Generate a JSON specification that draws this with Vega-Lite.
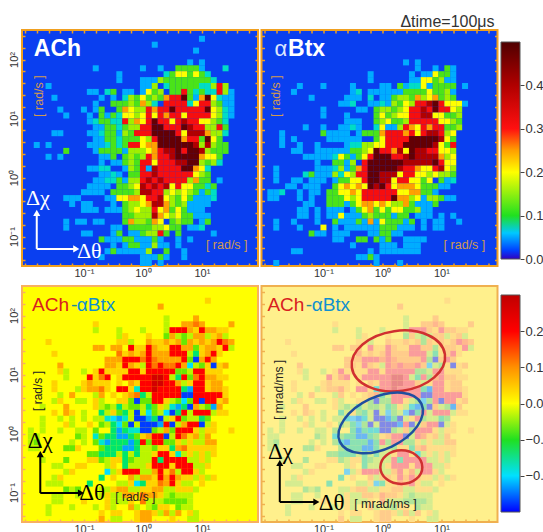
{"$schema":"https://vega.github.io/schema/vega-lite/v6.json","background":"white","padding":{"left":7,"top":13,"right":0,"bottom":0},"bounds":"flush","columns":3,"spacing":{"row":20,"column":3.5},"resolve":{"scale":{"color":"independent"}},
"config":{"font":"Liberation Sans","axis":{"disable":true,"grid":false,"title":null,"domain":false,"labelColor":"#333333","labelFontSize":11,"tickColor":"#f0a020","tickSize":-3,"tickWidth":1.5,"labelOverlap":false,"labelFlush":false},"axisX":{"labelPadding":4},"axisY":{"labelPadding":6},"view":{"stroke":null},"text":{"font":"Liberation Sans"}},
"datasets":{
"ticks":[{"x":0,"y":0}],
"ach":[
{"x":1,"y":2.3,"v":0.05},{"x":0.2,"y":2.2,"v":0.05},{"x":0.9,"y":2.1,"v":0.05},{"x":0.8,"y":1.9,"v":0.05},{"x":1,"y":1.9,"v":0.05},
{"x":-0.8,"y":1.8,"v":0.05},{"x":0,"y":1.8,"v":0.05},{"x":0.3,"y":1.8,"v":0.05},{"x":0.6,"y":1.8,"v":0.11},{"x":0.7,"y":1.8,"v":0.11},{"x":0.8,"y":1.8,"v":0.11},{"x":0.9,"y":1.8,"v":0.11},{"x":1,"y":1.8,"v":0.05},{"x":1.4,"y":1.8,"v":0.08},
{"x":-0.4,"y":1.7,"v":0.05},{"x":0.4,"y":1.7,"v":0.08},{"x":0.5,"y":1.7,"v":0.11},{"x":0.6,"y":1.7,"v":0.2},{"x":0.7,"y":1.7,"v":0.2},{"x":0.8,"y":1.7,"v":0.11},{"x":0.9,"y":1.7,"v":0.2},{"x":1,"y":1.7,"v":0.11},{"x":1.1,"y":1.7,"v":0.08},
{"x":-0.4,"y":1.6,"v":0.05},{"x":0,"y":1.6,"v":0.05},{"x":0.1,"y":1.6,"v":0.05},{"x":0.2,"y":1.6,"v":0.05},{"x":0.3,"y":1.6,"v":0.15},{"x":0.4,"y":1.6,"v":0.11},{"x":0.5,"y":1.6,"v":0.11},{"x":0.6,"y":1.6,"v":0.11},{"x":0.7,"y":1.6,"v":0.11},{"x":0.8,"y":1.6,"v":0.11},{"x":0.9,"y":1.6,"v":0.11},{"x":1,"y":1.6,"v":0.11},{"x":1.1,"y":1.6,"v":0.11},{"x":1.2,"y":1.6,"v":0.08},
{"x":-1.6,"y":1.5,"v":0.05},{"x":0,"y":1.5,"v":0.05},{"x":0.1,"y":1.5,"v":0.05},{"x":0.2,"y":1.5,"v":0.15},{"x":0.4,"y":1.5,"v":0.08},{"x":0.5,"y":1.5,"v":0.11},{"x":0.6,"y":1.5,"v":0.11},{"x":0.7,"y":1.5,"v":0.11},{"x":0.8,"y":1.5,"v":0.11},{"x":0.9,"y":1.5,"v":0.11},{"x":1,"y":1.5,"v":0.08},{"x":1.1,"y":1.5,"v":0.08},{"x":1.2,"y":1.5,"v":0.15},{"x":1.3,"y":1.5,"v":0.31},{"x":1.4,"y":1.5,"v":0.15},
{"x":-0.9,"y":1.4,"v":0.05},{"x":-0.8,"y":1.4,"v":0.05},{"x":-0.6,"y":1.4,"v":0.08},{"x":-0.5,"y":1.4,"v":0.11},{"x":-0.3,"y":1.4,"v":0.05},{"x":-0.2,"y":1.4,"v":0.05},{"x":0,"y":1.4,"v":0.05},{"x":0.1,"y":1.4,"v":0.2},{"x":0.2,"y":1.4,"v":0.11},{"x":0.3,"y":1.4,"v":0.15},{"x":0.5,"y":1.4,"v":0.11},{"x":0.6,"y":1.4,"v":0.11},{"x":0.7,"y":1.4,"v":0.31},{"x":0.8,"y":1.4,"v":0.11},{"x":0.9,"y":1.4,"v":0.08},{"x":1,"y":1.4,"v":0.11},{"x":1.1,"y":1.4,"v":0.08},{"x":1.2,"y":1.4,"v":0.08},{"x":1.3,"y":1.4,"v":0.31},{"x":1.4,"y":1.4,"v":0.15},{"x":1.5,"y":1.4,"v":0.05},
{"x":-1.5,"y":1.3,"v":0.05},{"x":-0.7,"y":1.3,"v":0.05},{"x":-0.5,"y":1.3,"v":0.05},{"x":-0.3,"y":1.3,"v":0.08},{"x":-0.2,"y":1.3,"v":0.15},{"x":-0.1,"y":1.3,"v":0.11},{"x":0,"y":1.3,"v":0.2},{"x":0.1,"y":1.3,"v":0.11},{"x":0.2,"y":1.3,"v":0.15},{"x":0.3,"y":1.3,"v":0.11},{"x":0.4,"y":1.3,"v":0.25},{"x":0.5,"y":1.3,"v":0.31},{"x":0.6,"y":1.3,"v":0.31},{"x":0.7,"y":1.3,"v":0.48},{"x":0.8,"y":1.3,"v":0.11},{"x":0.9,"y":1.3,"v":0.05},{"x":1,"y":1.3,"v":0.25},{"x":1.1,"y":1.3,"v":0.48},{"x":1.2,"y":1.3,"v":0.2},{"x":1.3,"y":1.3,"v":0.08},{"x":1.4,"y":1.3,"v":0.05},{"x":1.5,"y":1.3,"v":0.05},
{"x":-0.8,"y":1.2,"v":0.05},{"x":-0.5,"y":1.2,"v":0.11},{"x":-0.4,"y":1.2,"v":0.11},{"x":-0.3,"y":1.2,"v":0.11},{"x":-0.2,"y":1.2,"v":0.15},{"x":-0.1,"y":1.2,"v":0.11},{"x":0,"y":1.2,"v":0.25},{"x":0.1,"y":1.2,"v":0.15},{"x":0.2,"y":1.2,"v":0.08},{"x":0.4,"y":1.2,"v":0.31},{"x":0.5,"y":1.2,"v":0.31},{"x":0.6,"y":1.2,"v":0.31},{"x":0.7,"y":1.2,"v":0.31},{"x":0.8,"y":1.2,"v":0.08},{"x":0.9,"y":1.2,"v":0.2},{"x":1,"y":1.2,"v":0.31},{"x":1.1,"y":1.2,"v":0.31},{"x":1.2,"y":1.2,"v":0.15},{"x":1.3,"y":1.2,"v":0.11},{"x":1.4,"y":1.2,"v":0.05},{"x":1.5,"y":1.2,"v":0.05},
{"x":-1.4,"y":1.1,"v":0.05},{"x":-1,"y":1.1,"v":0.05},{"x":-0.8,"y":1.1,"v":0.05},{"x":-0.7,"y":1.1,"v":0.11},{"x":-0.4,"y":1.1,"v":0.11},{"x":-0.3,"y":1.1,"v":0.25},{"x":-0.2,"y":1.1,"v":0.2},{"x":-0.1,"y":1.1,"v":0.15},{"x":0,"y":1.1,"v":0.15},{"x":0.1,"y":1.1,"v":0.31},{"x":0.2,"y":1.1,"v":0.25},{"x":0.3,"y":1.1,"v":0.31},{"x":0.4,"y":1.1,"v":0.31},{"x":0.5,"y":1.1,"v":0.48},{"x":0.6,"y":1.1,"v":0.31},{"x":0.7,"y":1.1,"v":0.31},{"x":0.8,"y":1.1,"v":0.31},{"x":0.9,"y":1.1,"v":0.31},{"x":1,"y":1.1,"v":0.31},{"x":1.1,"y":1.1,"v":0.48},{"x":1.2,"y":1.1,"v":0.2},{"x":1.3,"y":1.1,"v":0.15},{"x":1.4,"y":1.1,"v":0.08},{"x":1.5,"y":1.1,"v":0.05},
{"x":-1.3,"y":1,"v":0.05},{"x":-0.9,"y":1,"v":0.05},{"x":-0.7,"y":1,"v":0.11},{"x":-0.6,"y":1,"v":0.05},{"x":-0.5,"y":1,"v":0.11},{"x":-0.4,"y":1,"v":0.08},{"x":-0.3,"y":1,"v":0.2},{"x":-0.2,"y":1,"v":0.2},{"x":-0.1,"y":1,"v":0.15},{"x":0,"y":1,"v":0.2},{"x":0.1,"y":1,"v":0.31},{"x":0.2,"y":1,"v":0.2},{"x":0.3,"y":1,"v":0.31},{"x":0.4,"y":1,"v":0.25},{"x":0.5,"y":1,"v":0.31},{"x":0.6,"y":1,"v":0.31},{"x":0.7,"y":1,"v":0.2},{"x":0.8,"y":1,"v":0.31},{"x":0.9,"y":1,"v":0.31},{"x":1,"y":1,"v":0.31},{"x":1.1,"y":1,"v":0.31},{"x":1.2,"y":1,"v":0.2},{"x":1.3,"y":1,"v":0.15},{"x":1.4,"y":1,"v":0.08},{"x":1.5,"y":1,"v":0.05},
{"x":-0.9,"y":0.9,"v":0.05},{"x":-0.8,"y":0.9,"v":0.08},{"x":-0.7,"y":0.9,"v":0.11},{"x":-0.6,"y":0.9,"v":0.11},{"x":-0.5,"y":0.9,"v":0.08},{"x":-0.4,"y":0.9,"v":0.08},{"x":-0.3,"y":0.9,"v":0.31},{"x":-0.2,"y":0.9,"v":0.15},{"x":-0.1,"y":0.9,"v":0.25},{"x":0,"y":0.9,"v":0.2},{"x":0.1,"y":0.9,"v":0.31},{"x":0.2,"y":0.9,"v":0.48},{"x":0.3,"y":0.9,"v":0.31},{"x":0.4,"y":0.9,"v":0.31},{"x":0.5,"y":0.9,"v":0.2},{"x":0.6,"y":0.9,"v":0.31},{"x":0.7,"y":0.9,"v":0.4},{"x":0.8,"y":0.9,"v":0.31},{"x":0.9,"y":0.9,"v":0.31},{"x":1,"y":0.9,"v":0.2},{"x":1.1,"y":0.9,"v":0.2},{"x":1.2,"y":0.9,"v":0.15},{"x":1.3,"y":0.9,"v":0.11},{"x":1.4,"y":0.9,"v":0.08},
{"x":-0.8,"y":0.8,"v":0.05},{"x":-0.7,"y":0.8,"v":0.05},{"x":-0.6,"y":0.8,"v":0.11},{"x":-0.5,"y":0.8,"v":0.11},{"x":-0.4,"y":0.8,"v":0.08},{"x":-0.3,"y":0.8,"v":0.11},{"x":-0.2,"y":0.8,"v":0.15},{"x":-0.1,"y":0.8,"v":0.15},{"x":0,"y":0.8,"v":0.31},{"x":0.1,"y":0.8,"v":0.31},{"x":0.2,"y":0.8,"v":0.48},{"x":0.3,"y":0.8,"v":0.48},{"x":0.4,"y":0.8,"v":0.31},{"x":0.5,"y":0.8,"v":0.31},{"x":0.6,"y":0.8,"v":0.31},{"x":0.7,"y":0.8,"v":0.48},{"x":0.8,"y":0.8,"v":0.4},{"x":0.9,"y":0.8,"v":0.31},{"x":1,"y":0.8,"v":0.31},{"x":1.1,"y":0.8,"v":0.15},{"x":1.2,"y":0.8,"v":0.15},{"x":1.3,"y":0.8,"v":0.31},{"x":1.4,"y":0.8,"v":0.11},
{"x":-1.5,"y":0.7,"v":0.05},{"x":-1.4,"y":0.7,"v":0.05},{"x":-0.9,"y":0.7,"v":0.05},{"x":-0.8,"y":0.7,"v":0.05},{"x":-0.7,"y":0.7,"v":0.08},{"x":-0.6,"y":0.7,"v":0.11},{"x":-0.5,"y":0.7,"v":0.11},{"x":-0.4,"y":0.7,"v":0.05},{"x":-0.3,"y":0.7,"v":0.15},{"x":-0.2,"y":0.7,"v":0.11},{"x":-0.1,"y":0.7,"v":0.31},{"x":0,"y":0.7,"v":0.31},{"x":0.1,"y":0.7,"v":0.31},{"x":0.2,"y":0.7,"v":0.48},{"x":0.3,"y":0.7,"v":0.48},{"x":0.4,"y":0.7,"v":0.48},{"x":0.5,"y":0.7,"v":0.48},{"x":0.6,"y":0.7,"v":0.31},{"x":0.7,"y":0.7,"v":0.2},{"x":0.8,"y":0.7,"v":0.4},{"x":0.9,"y":0.7,"v":0.4},{"x":1,"y":0.7,"v":0.4},{"x":1.1,"y":0.7,"v":0.25},{"x":1.2,"y":0.7,"v":0.15},{"x":1.3,"y":0.7,"v":0.15},{"x":1.4,"y":0.7,"v":0.08},
{"x":-0.8,"y":0.6,"v":0.05},{"x":-0.7,"y":0.6,"v":0.05},{"x":-0.6,"y":0.6,"v":0.11},{"x":-0.5,"y":0.6,"v":0.11},{"x":-0.4,"y":0.6,"v":0.08},{"x":-0.3,"y":0.6,"v":0.11},{"x":-0.2,"y":0.6,"v":0.11},{"x":-0.1,"y":0.6,"v":0.11},{"x":0,"y":0.6,"v":0.2},{"x":0.1,"y":0.6,"v":0.15},{"x":0.2,"y":0.6,"v":0.31},{"x":0.3,"y":0.6,"v":0.48},{"x":0.4,"y":0.6,"v":0.48},{"x":0.5,"y":0.6,"v":0.48},{"x":0.6,"y":0.6,"v":0.48},{"x":0.7,"y":0.6,"v":0.25},{"x":0.8,"y":0.6,"v":0.31},{"x":0.9,"y":0.6,"v":0.31},{"x":1,"y":0.6,"v":0.11},{"x":1.1,"y":0.6,"v":0.48},{"x":1.2,"y":0.6,"v":0.2},{"x":1.3,"y":0.6,"v":0.11},
{"x":-1.8,"y":0.5,"v":0.05},{"x":-1.6,"y":0.5,"v":0.05},{"x":-0.9,"y":0.5,"v":0.05},{"x":-0.8,"y":0.5,"v":0.05},{"x":-0.7,"y":0.5,"v":0.05},{"x":-0.6,"y":0.5,"v":0.08},{"x":-0.5,"y":0.5,"v":0.11},{"x":-0.4,"y":0.5,"v":0.08},{"x":-0.3,"y":0.5,"v":0.11},{"x":-0.2,"y":0.5,"v":0.31},{"x":-0.1,"y":0.5,"v":0.31},{"x":0,"y":0.5,"v":0.2},{"x":0.1,"y":0.5,"v":0.25},{"x":0.2,"y":0.5,"v":0.25},{"x":0.3,"y":0.5,"v":0.48},{"x":0.4,"y":0.5,"v":0.48},{"x":0.5,"y":0.5,"v":0.48},{"x":0.6,"y":0.5,"v":0.48},{"x":0.7,"y":0.5,"v":0.48},{"x":0.8,"y":0.5,"v":0.48},{"x":0.9,"y":0.5,"v":0.4},{"x":1,"y":0.5,"v":0.15},{"x":1.1,"y":0.5,"v":0.4},{"x":1.2,"y":0.5,"v":0.15},{"x":1.3,"y":0.5,"v":0.11},{"x":1.4,"y":0.5,"v":0.11},
{"x":-1.3,"y":0.4,"v":0.11},{"x":-0.8,"y":0.4,"v":0.05},{"x":-0.7,"y":0.4,"v":0.11},{"x":-0.6,"y":0.4,"v":0.11},{"x":-0.5,"y":0.4,"v":0.11},{"x":-0.4,"y":0.4,"v":0.11},{"x":-0.3,"y":0.4,"v":0.05},{"x":-0.2,"y":0.4,"v":0.15},{"x":-0.1,"y":0.4,"v":0.15},{"x":0,"y":0.4,"v":0.15},{"x":0.1,"y":0.4,"v":0.2},{"x":0.2,"y":0.4,"v":0.25},{"x":0.3,"y":0.4,"v":0.31},{"x":0.4,"y":0.4,"v":0.4},{"x":0.5,"y":0.4,"v":0.4},{"x":0.6,"y":0.4,"v":0.48},{"x":0.7,"y":0.4,"v":0.31},{"x":0.8,"y":0.4,"v":0.48},{"x":0.9,"y":0.4,"v":0.48},{"x":1,"y":0.4,"v":0.4},{"x":1.1,"y":0.4,"v":0.15},{"x":1.2,"y":0.4,"v":0.11},{"x":1.3,"y":0.4,"v":0.11},{"x":1.4,"y":0.4,"v":0.11},
{"x":-1.6,"y":0.3,"v":0.05},{"x":-1.4,"y":0.3,"v":0.05},{"x":-0.7,"y":0.3,"v":0.05},{"x":-0.6,"y":0.3,"v":0.05},{"x":-0.5,"y":0.3,"v":0.11},{"x":-0.3,"y":0.3,"v":0.11},{"x":-0.2,"y":0.3,"v":0.15},{"x":-0.1,"y":0.3,"v":0.11},{"x":0,"y":0.3,"v":0.15},{"x":0.1,"y":0.3,"v":0.31},{"x":0.2,"y":0.3,"v":0.25},{"x":0.3,"y":0.3,"v":0.31},{"x":0.4,"y":0.3,"v":0.31},{"x":0.5,"y":0.3,"v":0.4},{"x":0.6,"y":0.3,"v":0.48},{"x":0.7,"y":0.3,"v":0.48},{"x":0.8,"y":0.3,"v":0.48},{"x":0.9,"y":0.3,"v":0.48},{"x":1,"y":0.3,"v":0.25},{"x":1.1,"y":0.3,"v":0.2},{"x":1.2,"y":0.3,"v":0.2},{"x":1.3,"y":0.3,"v":0.11},
{"x":-0.7,"y":0.2,"v":0.05},{"x":-0.5,"y":0.2,"v":0.05},{"x":-0.4,"y":0.2,"v":0.05},{"x":-0.3,"y":0.2,"v":0.11},{"x":-0.2,"y":0.2,"v":0.15},{"x":-0.1,"y":0.2,"v":0.11},{"x":0,"y":0.2,"v":0.31},{"x":0.1,"y":0.2,"v":0.31},{"x":0.2,"y":0.2,"v":0.2},{"x":0.3,"y":0.2,"v":0.31},{"x":0.4,"y":0.2,"v":0.31},{"x":0.5,"y":0.2,"v":0.31},{"x":0.6,"y":0.2,"v":0.4},{"x":0.7,"y":0.2,"v":0.4},{"x":0.8,"y":0.2,"v":0.48},{"x":0.9,"y":0.2,"v":0.48},{"x":1,"y":0.2,"v":0.15},{"x":1.1,"y":0.2,"v":0.11},{"x":1.2,"y":0.2,"v":0.15},{"x":1.3,"y":0.2,"v":0.08},
{"x":-0.9,"y":0.1,"v":0.05},{"x":-0.8,"y":0.1,"v":0.05},{"x":-0.7,"y":0.1,"v":0.08},{"x":-0.6,"y":0.1,"v":0.08},{"x":-0.3,"y":0.1,"v":0.05},{"x":-0.2,"y":0.1,"v":0.15},{"x":-0.1,"y":0.1,"v":0.11},{"x":0,"y":0.1,"v":0.31},{"x":0.1,"y":0.1,"v":0.05},{"x":0.2,"y":0.1,"v":0.4},{"x":0.3,"y":0.1,"v":0.31},{"x":0.4,"y":0.1,"v":0.31},{"x":0.5,"y":0.1,"v":0.31},{"x":0.6,"y":0.1,"v":0.31},{"x":0.7,"y":0.1,"v":0.48},{"x":0.8,"y":0.1,"v":0.48},{"x":0.9,"y":0.1,"v":0.25},{"x":1,"y":0.1,"v":0.2},{"x":1.1,"y":0.1,"v":0.08},
{"x":-0.7,"y":0,"v":0.05},{"x":-0.6,"y":0,"v":0.05},{"x":-0.5,"y":0,"v":0.08},{"x":-0.4,"y":0,"v":0.05},{"x":-0.2,"y":0,"v":0.11},{"x":-0.1,"y":0,"v":0.11},{"x":0,"y":0,"v":0.31},{"x":0.1,"y":0,"v":0.31},{"x":0.2,"y":0,"v":0.4},{"x":0.3,"y":0,"v":0.31},{"x":0.4,"y":0,"v":0.31},{"x":0.5,"y":0,"v":0.31},{"x":0.6,"y":0,"v":0.31},{"x":0.7,"y":0,"v":0.31},{"x":0.8,"y":0,"v":0.31},{"x":0.9,"y":0,"v":0.2},{"x":1,"y":0,"v":0.15},{"x":1.1,"y":0,"v":0.11},
{"x":-0.8,"y":-0.1,"v":0.05},{"x":-0.7,"y":-0.1,"v":0.05},{"x":-0.6,"y":-0.1,"v":0.08},{"x":-0.5,"y":-0.1,"v":0.08},{"x":-0.4,"y":-0.1,"v":0.11},{"x":-0.3,"y":-0.1,"v":0.05},{"x":-0.2,"y":-0.1,"v":0.15},{"x":-0.1,"y":-0.1,"v":0.15},{"x":0,"y":-0.1,"v":0.31},{"x":0.1,"y":-0.1,"v":0.4},{"x":0.2,"y":-0.1,"v":0.31},{"x":0.3,"y":-0.1,"v":0.4},{"x":0.4,"y":-0.1,"v":0.31},{"x":0.5,"y":-0.1,"v":0.31},{"x":0.6,"y":-0.1,"v":0.31},{"x":0.7,"y":-0.1,"v":0.31},{"x":0.8,"y":-0.1,"v":0.15},{"x":0.9,"y":-0.1,"v":0.25},{"x":1,"y":-0.1,"v":0.11},{"x":1.1,"y":-0.1,"v":0.11},{"x":1.3,"y":-0.1,"v":0.05},
{"x":-0.9,"y":-0.2,"v":0.05},{"x":-0.8,"y":-0.2,"v":0.05},{"x":-0.7,"y":-0.2,"v":0.05},{"x":-0.6,"y":-0.2,"v":0.05},{"x":-0.4,"y":-0.2,"v":0.11},{"x":-0.3,"y":-0.2,"v":0.11},{"x":-0.2,"y":-0.2,"v":0.15},{"x":-0.1,"y":-0.2,"v":0.2},{"x":0,"y":-0.2,"v":0.4},{"x":0.1,"y":-0.2,"v":0.31},{"x":0.2,"y":-0.2,"v":0.4},{"x":0.3,"y":-0.2,"v":0.31},{"x":0.4,"y":-0.2,"v":0.4},{"x":0.5,"y":-0.2,"v":0.2},{"x":0.6,"y":-0.2,"v":0.31},{"x":0.7,"y":-0.2,"v":0.2},{"x":0.8,"y":-0.2,"v":0.2},{"x":0.9,"y":-0.2,"v":0.11},{"x":1,"y":-0.2,"v":0.11},{"x":1.1,"y":-0.2,"v":0.08},{"x":1.2,"y":-0.2,"v":0.11},
{"x":-1,"y":-0.3,"v":0.05},{"x":-0.9,"y":-0.3,"v":0.05},{"x":-0.8,"y":-0.3,"v":0.05},{"x":-0.7,"y":-0.3,"v":0.05},{"x":-0.5,"y":-0.3,"v":0.11},{"x":-0.4,"y":-0.3,"v":0.11},{"x":-0.3,"y":-0.3,"v":0.11},{"x":-0.2,"y":-0.3,"v":0.11},{"x":-0.1,"y":-0.3,"v":0.15},{"x":0,"y":-0.3,"v":0.4},{"x":0.1,"y":-0.3,"v":0.4},{"x":0.2,"y":-0.3,"v":0.31},{"x":0.3,"y":-0.3,"v":0.31},{"x":0.4,"y":-0.3,"v":0.15},{"x":0.5,"y":-0.3,"v":0.2},{"x":0.6,"y":-0.3,"v":0.15},{"x":0.7,"y":-0.3,"v":0.2},{"x":0.8,"y":-0.3,"v":0.15},{"x":0.9,"y":-0.3,"v":0.11},{"x":1,"y":-0.3,"v":0.05},{"x":1.1,"y":-0.3,"v":0.11},{"x":1.2,"y":-0.3,"v":0.08},
{"x":-1.3,"y":-0.4,"v":0.05},{"x":-1.2,"y":-0.4,"v":0.05},{"x":-1.1,"y":-0.4,"v":0.05},{"x":-0.6,"y":-0.4,"v":0.05},{"x":-0.5,"y":-0.4,"v":0.05},{"x":-0.4,"y":-0.4,"v":0.2},{"x":-0.3,"y":-0.4,"v":0.2},{"x":-0.2,"y":-0.4,"v":0.25},{"x":-0.1,"y":-0.4,"v":0.25},{"x":0,"y":-0.4,"v":0.2},{"x":0.1,"y":-0.4,"v":0.31},{"x":0.2,"y":-0.4,"v":0.31},{"x":0.3,"y":-0.4,"v":0.4},{"x":0.4,"y":-0.4,"v":0.2},{"x":0.5,"y":-0.4,"v":0.15},{"x":0.6,"y":-0.4,"v":0.11},{"x":0.7,"y":-0.4,"v":0.2},{"x":0.8,"y":-0.4,"v":0.11},{"x":0.9,"y":-0.4,"v":0.05},{"x":1,"y":-0.4,"v":0.05},{"x":1.1,"y":-0.4,"v":0.05},{"x":1.2,"y":-0.4,"v":0.08},
{"x":-1.2,"y":-0.5,"v":0.05},{"x":-1,"y":-0.5,"v":0.05},{"x":-0.9,"y":-0.5,"v":0.05},{"x":-0.5,"y":-0.5,"v":0.05},{"x":-0.3,"y":-0.5,"v":0.11},{"x":-0.2,"y":-0.5,"v":0.15},{"x":-0.1,"y":-0.5,"v":0.15},{"x":0,"y":-0.5,"v":0.2},{"x":0.1,"y":-0.5,"v":0.25},{"x":0.2,"y":-0.5,"v":0.4},{"x":0.3,"y":-0.5,"v":0.4},{"x":0.4,"y":-0.5,"v":0.25},{"x":0.5,"y":-0.5,"v":0.15},{"x":0.6,"y":-0.5,"v":0.11},{"x":0.7,"y":-0.5,"v":0.15},{"x":0.8,"y":-0.5,"v":0.05},{"x":0.9,"y":-0.5,"v":0.05},{"x":1,"y":-0.5,"v":0.05},{"x":1.1,"y":-0.5,"v":0.05},
{"x":-1,"y":-0.6,"v":0.05},{"x":-0.9,"y":-0.6,"v":0.05},{"x":-0.8,"y":-0.6,"v":0.05},{"x":-0.6,"y":-0.6,"v":0.05},{"x":-0.5,"y":-0.6,"v":0.05},{"x":-0.4,"y":-0.6,"v":0.05},{"x":-0.3,"y":-0.6,"v":0.11},{"x":-0.2,"y":-0.6,"v":0.15},{"x":-0.1,"y":-0.6,"v":0.2},{"x":0,"y":-0.6,"v":0.15},{"x":0.1,"y":-0.6,"v":0.15},{"x":0.2,"y":-0.6,"v":0.31},{"x":0.3,"y":-0.6,"v":0.2},{"x":0.4,"y":-0.6,"v":0.25},{"x":0.5,"y":-0.6,"v":0.11},{"x":0.6,"y":-0.6,"v":0.2},{"x":0.7,"y":-0.6,"v":0.11},{"x":0.8,"y":-0.6,"v":0.05},{"x":0.9,"y":-0.6,"v":0.05},{"x":1,"y":-0.6,"v":0.05},
{"x":-0.3,"y":-0.7,"v":0.11},{"x":-0.2,"y":-0.7,"v":0.11},{"x":-0.1,"y":-0.7,"v":0.15},{"x":0,"y":-0.7,"v":0.15},{"x":0.1,"y":-0.7,"v":0.15},{"x":0.2,"y":-0.7,"v":0.4},{"x":0.3,"y":-0.7,"v":0.25},{"x":0.4,"y":-0.7,"v":0.2},{"x":0.5,"y":-0.7,"v":0.15},{"x":0.6,"y":-0.7,"v":0.2},{"x":0.7,"y":-0.7,"v":0.11},{"x":0.8,"y":-0.7,"v":0.11},{"x":0.9,"y":-0.7,"v":0.05},{"x":1,"y":-0.7,"v":0.05},{"x":1.1,"y":-0.7,"v":0.05},
{"x":-1.3,"y":-0.8,"v":0.05},{"x":-1.1,"y":-0.8,"v":0.05},{"x":-1,"y":-0.8,"v":0.05},{"x":-0.8,"y":-0.8,"v":0.05},{"x":-0.7,"y":-0.8,"v":0.05},{"x":-0.3,"y":-0.8,"v":0.11},{"x":-0.2,"y":-0.8,"v":0.25},{"x":-0.1,"y":-0.8,"v":0.15},{"x":0,"y":-0.8,"v":0.15},{"x":0.1,"y":-0.8,"v":0.11},{"x":0.2,"y":-0.8,"v":0.25},{"x":0.3,"y":-0.8,"v":0.2},{"x":0.5,"y":-0.8,"v":0.11},{"x":0.6,"y":-0.8,"v":0.15},{"x":0.7,"y":-0.8,"v":0.11},{"x":0.8,"y":-0.8,"v":0.11},{"x":1,"y":-0.8,"v":0.05},{"x":1.1,"y":-0.8,"v":0.11},
{"x":-1.3,"y":-0.9,"v":0.05},{"x":-0.5,"y":-0.9,"v":0.05},{"x":-0.4,"y":-0.9,"v":0.05},{"x":-0.2,"y":-0.9,"v":0.11},{"x":-0.1,"y":-0.9,"v":0.11},{"x":0,"y":-0.9,"v":0.11},{"x":0.1,"y":-0.9,"v":0.11},{"x":0.2,"y":-0.9,"v":0.15},{"x":0.3,"y":-0.9,"v":0.15},{"x":0.4,"y":-0.9,"v":0.2},{"x":0.5,"y":-0.9,"v":0.11},{"x":0.6,"y":-0.9,"v":0.11},{"x":0.8,"y":-0.9,"v":0.05},{"x":0.9,"y":-0.9,"v":0.05},{"x":1,"y":-0.9,"v":0.08},
{"x":-1,"y":-1,"v":0.05},{"x":-0.9,"y":-1,"v":0.05},{"x":-0.5,"y":-1,"v":0.05},{"x":-0.4,"y":-1,"v":0.11},{"x":-0.2,"y":-1,"v":0.05},{"x":-0.1,"y":-1,"v":0.05},{"x":0,"y":-1,"v":0.11},{"x":0.1,"y":-1,"v":0.15},{"x":0.2,"y":-1,"v":0.15},{"x":0.3,"y":-1,"v":0.31},{"x":0.4,"y":-1,"v":0.11},{"x":0.6,"y":-1,"v":0.11},{"x":1.2,"y":-1,"v":0.05},
{"x":-0.7,"y":-1.1,"v":0.11},{"x":-0.6,"y":-1.1,"v":0.05},{"x":-0.5,"y":-1.1,"v":0.05},{"x":-0.4,"y":-1.1,"v":0.05},{"x":-0.3,"y":-1.1,"v":0.11},{"x":-0.2,"y":-1.1,"v":0.11},{"x":-0.1,"y":-1.1,"v":0.05},{"x":0,"y":-1.1,"v":0.05},{"x":0.1,"y":-1.1,"v":0.05},{"x":0.2,"y":-1.1,"v":0.11},{"x":0.3,"y":-1.1,"v":0.05},{"x":0.6,"y":-1.1,"v":0.05},{"x":0.8,"y":-1.1,"v":0.05},
{"x":-0.5,"y":-1.2,"v":0.05},{"x":-0.3,"y":-1.2,"v":0.05},{"x":-0.2,"y":-1.2,"v":0.11},{"x":-0.1,"y":-1.2,"v":0.11},{"x":0,"y":-1.2,"v":0.05},{"x":0.1,"y":-1.2,"v":0.05},{"x":0.2,"y":-1.2,"v":0.15},{"x":0.3,"y":-1.2,"v":0.05},{"x":0.4,"y":-1.2,"v":0.05},{"x":0.6,"y":-1.2,"v":0.05},
{"x":-0.6,"y":-1.3,"v":0.05},{"x":-0.5,"y":-1.3,"v":0.11},{"x":-0.4,"y":-1.3,"v":0.05},{"x":-0.3,"y":-1.3,"v":0.05},{"x":-0.2,"y":-1.3,"v":0.05},{"x":-0.1,"y":-1.3,"v":0.05},{"x":0,"y":-1.3,"v":0.05},{"x":0.1,"y":-1.3,"v":0.15},{"x":0.4,"y":-1.3,"v":0.11},{"x":0.7,"y":-1.3,"v":0.05},
{"x":-0.7,"y":-1.4,"v":0.05},{"x":0,"y":-1.4,"v":0.05},{"x":0.1,"y":-1.4,"v":0.05},{"x":0.2,"y":-1.4,"v":0.05},{"x":0.3,"y":-1.4,"v":0.11},{"x":0.4,"y":-1.4,"v":0.05},{"x":0.7,"y":-1.4,"v":0.05},
{"x":0,"y":-1.5,"v":0.05},{"x":0.1,"y":-1.5,"v":0.05},{"x":0.3,"y":-1.5,"v":0.05}
],
"btx":[
{"x":0.4,"y":1.9,"v":0.05},{"x":0.6,"y":1.9,"v":0.05},
{"x":0.6,"y":1.8,"v":0.05},{"x":0.9,"y":1.8,"v":0.05},{"x":1.1,"y":1.8,"v":0.11},{"x":1.2,"y":1.8,"v":0.05},
{"x":-0.2,"y":1.7,"v":0.05},{"x":0.5,"y":1.7,"v":0.05},{"x":0.7,"y":1.7,"v":0.05},{"x":0.8,"y":1.7,"v":0.05},{"x":0.9,"y":1.7,"v":0.2},{"x":1,"y":1.7,"v":0.11},{"x":1.1,"y":1.7,"v":0.11},{"x":1.2,"y":1.7,"v":0.05},
{"x":-0.2,"y":1.6,"v":0.05},{"x":0.5,"y":1.6,"v":0.05},{"x":0.6,"y":1.6,"v":0.05},{"x":0.7,"y":1.6,"v":0.2},{"x":0.8,"y":1.6,"v":0.2},{"x":0.9,"y":1.6,"v":0.11},{"x":1,"y":1.6,"v":0.15},{"x":1.1,"y":1.6,"v":0.05},{"x":1.2,"y":1.6,"v":0.05},
{"x":-1.4,"y":1.5,"v":0.05},{"x":-1,"y":1.5,"v":0.05},{"x":-0.5,"y":1.5,"v":0.05},{"x":0,"y":1.5,"v":0.05},{"x":0.1,"y":1.5,"v":0.05},{"x":0.3,"y":1.5,"v":0.11},{"x":0.4,"y":1.5,"v":0.05},{"x":0.5,"y":1.5,"v":0.08},{"x":0.6,"y":1.5,"v":0.08},{"x":0.7,"y":1.5,"v":0.2},{"x":0.8,"y":1.5,"v":0.05},{"x":0.9,"y":1.5,"v":0.11},{"x":1,"y":1.5,"v":0.11},{"x":1.1,"y":1.5,"v":0.11},{"x":1.2,"y":1.5,"v":0.11},{"x":1.4,"y":1.5,"v":0.05},
{"x":-1.5,"y":1.4,"v":0.05},{"x":-0.5,"y":1.4,"v":0.05},{"x":-0.4,"y":1.4,"v":0.08},{"x":-0.2,"y":1.4,"v":0.05},{"x":-0.1,"y":1.4,"v":0.05},{"x":0,"y":1.4,"v":0.05},{"x":0.1,"y":1.4,"v":0.05},{"x":0.2,"y":1.4,"v":0.05},{"x":0.3,"y":1.4,"v":0.05},{"x":0.4,"y":1.4,"v":0.11},{"x":0.5,"y":1.4,"v":0.11},{"x":0.6,"y":1.4,"v":0.11},{"x":0.7,"y":1.4,"v":0.11},{"x":0.8,"y":1.4,"v":0.2},{"x":0.9,"y":1.4,"v":0.11},{"x":1,"y":1.4,"v":0.11},{"x":1.1,"y":1.4,"v":0.15},{"x":1.2,"y":1.4,"v":0.05},
{"x":-1.2,"y":1.3,"v":0.05},{"x":-0.6,"y":1.3,"v":0.05},{"x":-0.5,"y":1.3,"v":0.05},{"x":-0.4,"y":1.3,"v":0.05},{"x":-0.2,"y":1.3,"v":0.08},{"x":0,"y":1.3,"v":0.05},{"x":0.1,"y":1.3,"v":0.05},{"x":0.2,"y":1.3,"v":0.11},{"x":0.3,"y":1.3,"v":0.15},{"x":0.4,"y":1.3,"v":0.15},{"x":0.5,"y":1.3,"v":0.11},{"x":0.6,"y":1.3,"v":0.25},{"x":0.7,"y":1.3,"v":0.15},{"x":0.8,"y":1.3,"v":0.2},{"x":0.9,"y":1.3,"v":0.25},{"x":1,"y":1.3,"v":0.11},{"x":1.1,"y":1.3,"v":0.15},{"x":1.2,"y":1.3,"v":0.11},
{"x":-0.7,"y":1.2,"v":0.05},{"x":-0.6,"y":1.2,"v":0.05},{"x":-0.5,"y":1.2,"v":0.08},{"x":-0.2,"y":1.2,"v":0.05},{"x":-0.1,"y":1.2,"v":0.05},{"x":0,"y":1.2,"v":0.08},{"x":0.1,"y":1.2,"v":0.05},{"x":0.2,"y":1.2,"v":0.15},{"x":0.3,"y":1.2,"v":0.11},{"x":0.4,"y":1.2,"v":0.2},{"x":0.5,"y":1.2,"v":0.15},{"x":0.6,"y":1.2,"v":0.31},{"x":0.7,"y":1.2,"v":0.31},{"x":0.8,"y":1.2,"v":0.4},{"x":0.9,"y":1.2,"v":0.48},{"x":1,"y":1.2,"v":0.31},{"x":1.1,"y":1.2,"v":0.2},{"x":1.2,"y":1.2,"v":0.2},{"x":1.3,"y":1.2,"v":0.2},{"x":1.4,"y":1.2,"v":0.05},
{"x":-1,"y":1.1,"v":0.05},{"x":-0.4,"y":1.1,"v":0.05},{"x":-0.3,"y":1.1,"v":0.05},{"x":-0.1,"y":1.1,"v":0.11},{"x":0,"y":1.1,"v":0.15},{"x":0.1,"y":1.1,"v":0.15},{"x":0.2,"y":1.1,"v":0.11},{"x":0.3,"y":1.1,"v":0.15},{"x":0.4,"y":1.1,"v":0.2},{"x":0.5,"y":1.1,"v":0.31},{"x":0.6,"y":1.1,"v":0.31},{"x":0.7,"y":1.1,"v":0.4},{"x":0.8,"y":1.1,"v":0.31},{"x":0.9,"y":1.1,"v":0.48},{"x":1,"y":1.1,"v":0.31},{"x":1.1,"y":1.1,"v":0.31},{"x":1.2,"y":1.1,"v":0.2},{"x":1.3,"y":1.1,"v":0.15},
{"x":-1,"y":1,"v":0.05},{"x":-0.6,"y":1,"v":0.05},{"x":-0.1,"y":1,"v":0.11},{"x":0,"y":1,"v":0.2},{"x":0.1,"y":1,"v":0.11},{"x":0.2,"y":1,"v":0.15},{"x":0.3,"y":1,"v":0.2},{"x":0.4,"y":1,"v":0.2},{"x":0.5,"y":1,"v":0.31},{"x":0.6,"y":1,"v":0.31},{"x":0.7,"y":1,"v":0.4},{"x":0.8,"y":1,"v":0.4},{"x":0.9,"y":1,"v":0.2},{"x":1,"y":1,"v":0.2},{"x":1.1,"y":1,"v":0.11},{"x":1.2,"y":1,"v":0.11},{"x":1.3,"y":1,"v":0.15},
{"x":-0.6,"y":0.9,"v":0.05},{"x":-0.5,"y":0.9,"v":0.05},{"x":-0.4,"y":0.9,"v":0.05},{"x":-0.1,"y":0.9,"v":0.11},{"x":0,"y":0.9,"v":0.15},{"x":0.1,"y":0.9,"v":0.2},{"x":0.2,"y":0.9,"v":0.11},{"x":0.3,"y":0.9,"v":0.11},{"x":0.4,"y":0.9,"v":0.15},{"x":0.5,"y":0.9,"v":0.31},{"x":0.6,"y":0.9,"v":0.31},{"x":0.7,"y":0.9,"v":0.31},{"x":0.8,"y":0.9,"v":0.31},{"x":0.9,"y":0.9,"v":0.31},{"x":1,"y":0.9,"v":0.2},{"x":1.1,"y":0.9,"v":0.2},{"x":1.2,"y":0.9,"v":0.15},{"x":1.3,"y":0.9,"v":0.11},
{"x":-1.3,"y":0.8,"v":0.05},{"x":-1,"y":0.8,"v":0.05},{"x":-0.7,"y":0.8,"v":0.05},{"x":-0.6,"y":0.8,"v":0.05},{"x":-0.5,"y":0.8,"v":0.08},{"x":-0.4,"y":0.8,"v":0.05},{"x":-0.1,"y":0.8,"v":0.08},{"x":0,"y":0.8,"v":0.2},{"x":0.1,"y":0.8,"v":0.05},{"x":0.2,"y":0.8,"v":0.05},{"x":0.3,"y":0.8,"v":0.15},{"x":0.4,"y":0.8,"v":0.31},{"x":0.5,"y":0.8,"v":0.25},{"x":0.6,"y":0.8,"v":0.2},{"x":0.7,"y":0.8,"v":0.31},{"x":0.8,"y":0.8,"v":0.25},{"x":0.9,"y":0.8,"v":0.31},{"x":1,"y":0.8,"v":0.31},{"x":1.1,"y":0.8,"v":0.11},{"x":1.2,"y":0.8,"v":0.11},{"x":1.3,"y":0.8,"v":0.15},
{"x":-1.7,"y":0.7,"v":0.05},{"x":-1,"y":0.7,"v":0.11},{"x":-0.9,"y":0.7,"v":0.05},{"x":-0.8,"y":0.7,"v":0.05},{"x":-0.7,"y":0.7,"v":0.05},{"x":-0.6,"y":0.7,"v":0.05},{"x":-0.4,"y":0.7,"v":0.05},{"x":-0.3,"y":0.7,"v":0.11},{"x":-0.2,"y":0.7,"v":0.11},{"x":-0.1,"y":0.7,"v":0.11},{"x":0,"y":0.7,"v":0.25},{"x":0.1,"y":0.7,"v":0.31},{"x":0.2,"y":0.7,"v":0.31},{"x":0.3,"y":0.7,"v":0.31},{"x":0.4,"y":0.7,"v":0.25},{"x":0.5,"y":0.7,"v":0.31},{"x":0.6,"y":0.7,"v":0.2},{"x":0.7,"y":0.7,"v":0.31},{"x":0.8,"y":0.7,"v":0.4},{"x":0.9,"y":0.7,"v":0.4},{"x":1,"y":0.7,"v":0.31},{"x":1.1,"y":0.7,"v":0.15},{"x":1.2,"y":0.7,"v":0.2},
{"x":-1.7,"y":0.6,"v":0.05},{"x":-1.5,"y":0.6,"v":0.05},{"x":-0.9,"y":0.6,"v":0.05},{"x":-0.8,"y":0.6,"v":0.05},{"x":-0.7,"y":0.6,"v":0.05},{"x":-0.6,"y":0.6,"v":0.05},{"x":-0.5,"y":0.6,"v":0.05},{"x":-0.4,"y":0.6,"v":0.05},{"x":-0.1,"y":0.6,"v":0.11},{"x":0,"y":0.6,"v":0.2},{"x":0.1,"y":0.6,"v":0.31},{"x":0.2,"y":0.6,"v":0.31},{"x":0.3,"y":0.6,"v":0.31},{"x":0.4,"y":0.6,"v":0.31},{"x":0.5,"y":0.6,"v":0.48},{"x":0.6,"y":0.6,"v":0.48},{"x":0.7,"y":0.6,"v":0.48},{"x":0.8,"y":0.6,"v":0.48},{"x":0.9,"y":0.6,"v":0.48},{"x":1,"y":0.6,"v":0.4},{"x":1.1,"y":0.6,"v":0.2},{"x":1.2,"y":0.6,"v":0.11},
{"x":-1.7,"y":0.5,"v":0.05},{"x":-1.4,"y":0.5,"v":0.05},{"x":-1.1,"y":0.5,"v":0.05},{"x":-0.6,"y":0.5,"v":0.05},{"x":-0.5,"y":0.5,"v":0.08},{"x":-0.4,"y":0.5,"v":0.08},{"x":-0.3,"y":0.5,"v":0.15},{"x":-0.2,"y":0.5,"v":0.15},{"x":-0.1,"y":0.5,"v":0.2},{"x":0,"y":0.5,"v":0.2},{"x":0.1,"y":0.5,"v":0.31},{"x":0.2,"y":0.5,"v":0.31},{"x":0.3,"y":0.5,"v":0.31},{"x":0.4,"y":0.5,"v":0.48},{"x":0.5,"y":0.5,"v":0.48},{"x":0.6,"y":0.5,"v":0.48},{"x":0.7,"y":0.5,"v":0.48},{"x":0.8,"y":0.5,"v":0.48},{"x":0.9,"y":0.5,"v":0.4},{"x":1,"y":0.5,"v":0.2},{"x":1.1,"y":0.5,"v":0.11},{"x":1.2,"y":0.5,"v":0.31},
{"x":-1.5,"y":0.4,"v":0.05},{"x":-1.4,"y":0.4,"v":0.05},{"x":-1.1,"y":0.4,"v":0.05},{"x":-1,"y":0.4,"v":0.05},{"x":-0.9,"y":0.4,"v":0.05},{"x":-0.8,"y":0.4,"v":0.05},{"x":-0.7,"y":0.4,"v":0.05},{"x":-0.6,"y":0.4,"v":0.05},{"x":-0.5,"y":0.4,"v":0.11},{"x":-0.4,"y":0.4,"v":0.11},{"x":-0.3,"y":0.4,"v":0.15},{"x":-0.2,"y":0.4,"v":0.2},{"x":-0.1,"y":0.4,"v":0.48},{"x":0,"y":0.4,"v":0.31},{"x":0.1,"y":0.4,"v":0.31},{"x":0.2,"y":0.4,"v":0.25},{"x":0.3,"y":0.4,"v":0.4},{"x":0.4,"y":0.4,"v":0.2},{"x":0.5,"y":0.4,"v":0.48},{"x":0.6,"y":0.4,"v":0.4},{"x":0.7,"y":0.4,"v":0.4},{"x":0.8,"y":0.4,"v":0.31},{"x":0.9,"y":0.4,"v":0.31},{"x":1,"y":0.4,"v":0.2},{"x":1.1,"y":0.4,"v":0.2},{"x":1.2,"y":0.4,"v":0.15},
{"x":-1.3,"y":0.3,"v":0.05},{"x":-1.2,"y":0.3,"v":0.05},{"x":-1.1,"y":0.3,"v":0.05},{"x":-1,"y":0.3,"v":0.05},{"x":-0.9,"y":0.3,"v":0.05},{"x":-0.8,"y":0.3,"v":0.08},{"x":-0.7,"y":0.3,"v":0.2},{"x":-0.6,"y":0.3,"v":0.11},{"x":-0.5,"y":0.3,"v":0.05},{"x":-0.4,"y":0.3,"v":0.11},{"x":-0.3,"y":0.3,"v":0.2},{"x":-0.2,"y":0.3,"v":0.31},{"x":-0.1,"y":0.3,"v":0.48},{"x":0,"y":0.3,"v":0.48},{"x":0.1,"y":0.3,"v":0.48},{"x":0.2,"y":0.3,"v":0.31},{"x":0.3,"y":0.3,"v":0.31},{"x":0.4,"y":0.3,"v":0.4},{"x":0.5,"y":0.3,"v":0.48},{"x":0.6,"y":0.3,"v":0.4},{"x":0.7,"y":0.3,"v":0.4},{"x":0.8,"y":0.3,"v":0.4},{"x":0.9,"y":0.3,"v":0.4},{"x":1,"y":0.3,"v":0.25},{"x":1.1,"y":0.3,"v":0.15},{"x":1.2,"y":0.3,"v":0.2},
{"x":-1.1,"y":0.2,"v":0.05},{"x":-0.8,"y":0.2,"v":0.11},{"x":-0.7,"y":0.2,"v":0.11},{"x":-0.6,"y":0.2,"v":0.05},{"x":-0.5,"y":0.2,"v":0.15},{"x":-0.3,"y":0.2,"v":0.31},{"x":-0.2,"y":0.2,"v":0.48},{"x":-0.1,"y":0.2,"v":0.48},{"x":0,"y":0.2,"v":0.48},{"x":0.1,"y":0.2,"v":0.48},{"x":0.2,"y":0.2,"v":0.48},{"x":0.3,"y":0.2,"v":0.48},{"x":0.4,"y":0.2,"v":0.4},{"x":0.5,"y":0.2,"v":0.4},{"x":0.6,"y":0.2,"v":0.4},{"x":0.7,"y":0.2,"v":0.4},{"x":0.8,"y":0.2,"v":0.4},{"x":0.9,"y":0.2,"v":0.48},{"x":1,"y":0.2,"v":0.31},{"x":1.1,"y":0.2,"v":0.2},{"x":1.2,"y":0.2,"v":0.2},
{"x":-1.8,"y":0.1,"v":0.05},{"x":-1.1,"y":0.1,"v":0.05},{"x":-1,"y":0.1,"v":0.05},{"x":-0.9,"y":0.1,"v":0.05},{"x":-0.8,"y":0.1,"v":0.08},{"x":-0.7,"y":0.1,"v":0.15},{"x":-0.6,"y":0.1,"v":0.05},{"x":-0.5,"y":0.1,"v":0.11},{"x":-0.4,"y":0.1,"v":0.25},{"x":-0.3,"y":0.1,"v":0.31},{"x":-0.2,"y":0.1,"v":0.48},{"x":-0.1,"y":0.1,"v":0.48},{"x":0,"y":0.1,"v":0.48},{"x":0.1,"y":0.1,"v":0.48},{"x":0.2,"y":0.1,"v":0.48},{"x":0.3,"y":0.1,"v":0.4},{"x":0.4,"y":0.1,"v":0.31},{"x":0.5,"y":0.1,"v":0.31},{"x":0.6,"y":0.1,"v":0.25},{"x":0.7,"y":0.1,"v":0.2},{"x":0.8,"y":0.1,"v":0.2},{"x":0.9,"y":0.1,"v":0.31},{"x":1,"y":0.1,"v":0.4},{"x":1.1,"y":0.1,"v":0.2},{"x":1.2,"y":0.1,"v":0.15},
{"x":-1.8,"y":0,"v":0.05},{"x":-1.3,"y":0,"v":0.08},{"x":-1.2,"y":0,"v":0.11},{"x":-1.1,"y":0,"v":0.05},{"x":-1,"y":0,"v":0.05},{"x":-0.9,"y":0,"v":0.05},{"x":-0.8,"y":0,"v":0.15},{"x":-0.7,"y":0,"v":0.08},{"x":-0.6,"y":0,"v":0.2},{"x":-0.5,"y":0,"v":0.15},{"x":-0.4,"y":0,"v":0.31},{"x":-0.3,"y":0,"v":0.31},{"x":-0.2,"y":0,"v":0.48},{"x":-0.1,"y":0,"v":0.48},{"x":0,"y":0,"v":0.4},{"x":0.1,"y":0,"v":0.4},{"x":0.2,"y":0,"v":0.4},{"x":0.3,"y":0,"v":0.2},{"x":0.4,"y":0,"v":0.31},{"x":0.5,"y":0,"v":0.31},{"x":0.6,"y":0,"v":0.2},{"x":0.7,"y":0,"v":0.2},{"x":0.8,"y":0,"v":0.15},{"x":0.9,"y":0,"v":0.2},{"x":1,"y":0,"v":0.15},{"x":1.1,"y":0,"v":0.15},{"x":1.2,"y":0,"v":0.11},
{"x":-1.8,"y":-0.1,"v":0.05},{"x":-1.5,"y":-0.1,"v":0.05},{"x":-1.4,"y":-0.1,"v":0.05},{"x":-1.2,"y":-0.1,"v":0.05},{"x":-1.1,"y":-0.1,"v":0.05},{"x":-1,"y":-0.1,"v":0.05},{"x":-0.8,"y":-0.1,"v":0.05},{"x":-0.7,"y":-0.1,"v":0.11},{"x":-0.6,"y":-0.1,"v":0.11},{"x":-0.5,"y":-0.1,"v":0.2},{"x":-0.4,"y":-0.1,"v":0.2},{"x":-0.3,"y":-0.1,"v":0.31},{"x":-0.2,"y":-0.1,"v":0.48},{"x":-0.1,"y":-0.1,"v":0.48},{"x":0,"y":-0.1,"v":0.4},{"x":0.1,"y":-0.1,"v":0.4},{"x":0.2,"y":-0.1,"v":0.2},{"x":0.3,"y":-0.1,"v":0.31},{"x":0.4,"y":-0.1,"v":0.31},{"x":0.5,"y":-0.1,"v":0.2},{"x":0.6,"y":-0.1,"v":0.2},{"x":0.7,"y":-0.1,"v":0.11},{"x":0.8,"y":-0.1,"v":0.2},{"x":1,"y":-0.1,"v":0.11},{"x":1.1,"y":-0.1,"v":0.05},{"x":1.2,"y":-0.1,"v":0.08},
{"x":-1.6,"y":-0.2,"v":0.05},{"x":-1.5,"y":-0.2,"v":0.05},{"x":-1.3,"y":-0.2,"v":0.05},{"x":-1.2,"y":-0.2,"v":0.05},{"x":-1.1,"y":-0.2,"v":0.05},{"x":-0.8,"y":-0.2,"v":0.11},{"x":-0.7,"y":-0.2,"v":0.2},{"x":-0.6,"y":-0.2,"v":0.25},{"x":-0.5,"y":-0.2,"v":0.2},{"x":-0.4,"y":-0.2,"v":0.25},{"x":-0.3,"y":-0.2,"v":0.2},{"x":-0.2,"y":-0.2,"v":0.48},{"x":-0.1,"y":-0.2,"v":0.4},{"x":0,"y":-0.2,"v":0.48},{"x":0.1,"y":-0.2,"v":0.31},{"x":0.2,"y":-0.2,"v":0.2},{"x":0.3,"y":-0.2,"v":0.25},{"x":0.4,"y":-0.2,"v":0.25},{"x":0.5,"y":-0.2,"v":0.25},{"x":0.6,"y":-0.2,"v":0.2},{"x":0.7,"y":-0.2,"v":0.11},{"x":0.8,"y":-0.2,"v":0.11},{"x":0.9,"y":-0.2,"v":0.11},{"x":1,"y":-0.2,"v":0.05},{"x":1.1,"y":-0.2,"v":0.05},
{"x":-1.9,"y":-0.3,"v":0.05},{"x":-1.8,"y":-0.3,"v":0.05},{"x":-1.7,"y":-0.3,"v":0.08},{"x":-1.4,"y":-0.3,"v":0.05},{"x":-1.2,"y":-0.3,"v":0.05},{"x":-1.1,"y":-0.3,"v":0.05},{"x":-0.9,"y":-0.3,"v":0.11},{"x":-0.8,"y":-0.3,"v":0.11},{"x":-0.7,"y":-0.3,"v":0.2},{"x":-0.6,"y":-0.3,"v":0.2},{"x":-0.5,"y":-0.3,"v":0.25},{"x":-0.4,"y":-0.3,"v":0.2},{"x":-0.3,"y":-0.3,"v":0.31},{"x":-0.2,"y":-0.3,"v":0.31},{"x":-0.1,"y":-0.3,"v":0.31},{"x":0,"y":-0.3,"v":0.31},{"x":0.1,"y":-0.3,"v":0.31},{"x":0.2,"y":-0.3,"v":0.31},{"x":0.3,"y":-0.3,"v":0.2},{"x":0.4,"y":-0.3,"v":0.2},{"x":0.5,"y":-0.3,"v":0.25},{"x":0.6,"y":-0.3,"v":0.25},{"x":0.7,"y":-0.3,"v":0.11},{"x":0.8,"y":-0.3,"v":0.11},{"x":0.9,"y":-0.3,"v":0.05},
{"x":-1.9,"y":-0.4,"v":0.05},{"x":-1.8,"y":-0.4,"v":0.05},{"x":-1.4,"y":-0.4,"v":0.05},{"x":-1.2,"y":-0.4,"v":0.05},{"x":-0.9,"y":-0.4,"v":0.11},{"x":-0.8,"y":-0.4,"v":0.11},{"x":-0.7,"y":-0.4,"v":0.11},{"x":-0.6,"y":-0.4,"v":0.2},{"x":-0.5,"y":-0.4,"v":0.15},{"x":-0.4,"y":-0.4,"v":0.2},{"x":-0.3,"y":-0.4,"v":0.31},{"x":-0.2,"y":-0.4,"v":0.31},{"x":-0.1,"y":-0.4,"v":0.31},{"x":0,"y":-0.4,"v":0.31},{"x":0.1,"y":-0.4,"v":0.31},{"x":0.2,"y":-0.4,"v":0.48},{"x":0.3,"y":-0.4,"v":0.25},{"x":0.4,"y":-0.4,"v":0.25},{"x":0.5,"y":-0.4,"v":0.15},{"x":0.6,"y":-0.4,"v":0.2},{"x":0.7,"y":-0.4,"v":0.05},{"x":0.8,"y":-0.4,"v":0.15},{"x":0.9,"y":-0.4,"v":0.15},{"x":1,"y":-0.4,"v":0.11},{"x":1.1,"y":-0.4,"v":0.05},{"x":1.2,"y":-0.4,"v":0.05},
{"x":-1.3,"y":-0.5,"v":0.05},{"x":-1.2,"y":-0.5,"v":0.05},{"x":-0.9,"y":-0.5,"v":0.11},{"x":-0.8,"y":-0.5,"v":0.11},{"x":-0.7,"y":-0.5,"v":0.11},{"x":-0.6,"y":-0.5,"v":0.05},{"x":-0.5,"y":-0.5,"v":0.11},{"x":-0.4,"y":-0.5,"v":0.2},{"x":-0.3,"y":-0.5,"v":0.25},{"x":-0.2,"y":-0.5,"v":0.25},{"x":-0.1,"y":-0.5,"v":0.2},{"x":0,"y":-0.5,"v":0.25},{"x":0.1,"y":-0.5,"v":0.2},{"x":0.2,"y":-0.5,"v":0.15},{"x":0.3,"y":-0.5,"v":0.15},{"x":0.4,"y":-0.5,"v":0.25},{"x":0.5,"y":-0.5,"v":0.11},{"x":0.6,"y":-0.5,"v":0.05},{"x":0.7,"y":-0.5,"v":0.05},{"x":0.8,"y":-0.5,"v":0.05},{"x":0.9,"y":-0.5,"v":0.11},
{"x":-1.4,"y":-0.6,"v":0.05},{"x":-1.3,"y":-0.6,"v":0.05},{"x":-1.1,"y":-0.6,"v":0.05},{"x":-0.9,"y":-0.6,"v":0.05},{"x":-0.8,"y":-0.6,"v":0.05},{"x":-0.7,"y":-0.6,"v":0.05},{"x":-0.5,"y":-0.6,"v":0.05},{"x":-0.4,"y":-0.6,"v":0.11},{"x":-0.3,"y":-0.6,"v":0.2},{"x":-0.2,"y":-0.6,"v":0.25},{"x":-0.1,"y":-0.6,"v":0.11},{"x":0,"y":-0.6,"v":0.2},{"x":0.1,"y":-0.6,"v":0.11},{"x":0.2,"y":-0.6,"v":0.2},{"x":0.3,"y":-0.6,"v":0.2},{"x":0.4,"y":-0.6,"v":0.11},{"x":0.5,"y":-0.6,"v":0.11},{"x":0.6,"y":-0.6,"v":0.15},{"x":0.7,"y":-0.6,"v":0.05},{"x":0.8,"y":-0.6,"v":0.05},
{"x":-1.4,"y":-0.7,"v":0.05},{"x":-1.3,"y":-0.7,"v":0.05},{"x":-1.1,"y":-0.7,"v":0.05},{"x":-0.9,"y":-0.7,"v":0.05},{"x":-0.8,"y":-0.7,"v":0.05},{"x":-0.7,"y":-0.7,"v":0.2},{"x":-0.6,"y":-0.7,"v":0.05},{"x":-0.5,"y":-0.7,"v":0.05},{"x":-0.4,"y":-0.7,"v":0.05},{"x":-0.3,"y":-0.7,"v":0.11},{"x":-0.2,"y":-0.7,"v":0.15},{"x":-0.1,"y":-0.7,"v":0.11},{"x":0,"y":-0.7,"v":0.11},{"x":0.1,"y":-0.7,"v":0.11},{"x":0.2,"y":-0.7,"v":0.05},{"x":0.3,"y":-0.7,"v":0.11},{"x":0.4,"y":-0.7,"v":0.11},{"x":0.6,"y":-0.7,"v":0.05},{"x":0.7,"y":-0.7,"v":0.05},{"x":0.8,"y":-0.7,"v":0.05},{"x":1,"y":-0.7,"v":0.05},{"x":1.2,"y":-0.7,"v":0.05},
{"x":-1.8,"y":-0.8,"v":0.05},{"x":-1.5,"y":-0.8,"v":0.05},{"x":-1.1,"y":-0.8,"v":0.05},{"x":-0.8,"y":-0.8,"v":0.11},{"x":-0.7,"y":-0.8,"v":0.05},{"x":-0.6,"y":-0.8,"v":0.05},{"x":-0.5,"y":-0.8,"v":0.05},{"x":-0.4,"y":-0.8,"v":0.11},{"x":-0.3,"y":-0.8,"v":0.05},{"x":-0.2,"y":-0.8,"v":0.25},{"x":-0.1,"y":-0.8,"v":0.05},{"x":0,"y":-0.8,"v":0.2},{"x":0.1,"y":-0.8,"v":0.11},{"x":0.2,"y":-0.8,"v":0.11},{"x":0.3,"y":-0.8,"v":0.11},{"x":0.4,"y":-0.8,"v":0.05},{"x":0.5,"y":-0.8,"v":0.11},{"x":0.7,"y":-0.8,"v":0.05},{"x":0.9,"y":-0.8,"v":0.05},{"x":1,"y":-0.8,"v":0.05},{"x":1.3,"y":-0.8,"v":0.05},
{"x":-1.8,"y":-0.9,"v":0.05},{"x":-1.4,"y":-0.9,"v":0.05},{"x":-1,"y":-0.9,"v":0.2},{"x":-0.8,"y":-0.9,"v":0.05},{"x":-0.6,"y":-0.9,"v":0.05},{"x":-0.5,"y":-0.9,"v":0.05},{"x":-0.4,"y":-0.9,"v":0.05},{"x":-0.3,"y":-0.9,"v":0.05},{"x":-0.2,"y":-0.9,"v":0.05},{"x":-0.1,"y":-0.9,"v":0.05},{"x":0,"y":-0.9,"v":0.11},{"x":0.1,"y":-0.9,"v":0.11},{"x":0.2,"y":-0.9,"v":0.11},{"x":0.3,"y":-0.9,"v":0.05},{"x":0.4,"y":-0.9,"v":0.05},{"x":0.5,"y":-0.9,"v":0.05},{"x":0.7,"y":-0.9,"v":0.05},{"x":0.9,"y":-0.9,"v":0.05},{"x":1,"y":-0.9,"v":0.05},
{"x":-1.2,"y":-1,"v":0.11},{"x":-1.1,"y":-1,"v":0.05},{"x":-1,"y":-1,"v":0.05},{"x":-0.8,"y":-1,"v":0.05},{"x":-0.7,"y":-1,"v":0.05},{"x":-0.6,"y":-1,"v":0.05},{"x":-0.2,"y":-1,"v":0.05},{"x":-0.1,"y":-1,"v":0.05},{"x":0,"y":-1,"v":0.11},{"x":0.1,"y":-1,"v":0.11},{"x":0.2,"y":-1,"v":0.05},{"x":0.3,"y":-1,"v":0.05},
{"x":-0.8,"y":-1.1,"v":0.05},{"x":-0.7,"y":-1.1,"v":0.05},{"x":-0.4,"y":-1.1,"v":0.11},{"x":-0.3,"y":-1.1,"v":0.11},{"x":-0.1,"y":-1.1,"v":0.11},{"x":0,"y":-1.1,"v":0.05},{"x":0.1,"y":-1.1,"v":0.11},{"x":0.4,"y":-1.1,"v":0.05},{"x":0.5,"y":-1.1,"v":0.05},{"x":0.6,"y":-1.1,"v":0.05},{"x":0.7,"y":-1.1,"v":0.05},
{"x":-0.5,"y":-1.2,"v":0.05},{"x":0,"y":-1.2,"v":0.05},{"x":0.1,"y":-1.2,"v":0.05},{"x":0.2,"y":-1.2,"v":0.05},{"x":0.4,"y":-1.2,"v":0.05},{"x":0.5,"y":-1.2,"v":0.05},{"x":0.6,"y":-1.2,"v":0.05},
{"x":-1.5,"y":-1.3,"v":0.05},{"x":-1.4,"y":-1.3,"v":0.05},{"x":-0.2,"y":-1.3,"v":0.05},{"x":0,"y":-1.3,"v":0.05},{"x":0.1,"y":-1.3,"v":0.05},{"x":0.2,"y":-1.3,"v":0.05},{"x":0.3,"y":-1.3,"v":0.05},{"x":0.4,"y":-1.3,"v":0.05},{"x":0.5,"y":-1.3,"v":0.05},{"x":0.6,"y":-1.3,"v":0.05},
{"x":-0.4,"y":-1.4,"v":0.05},{"x":-0.3,"y":-1.4,"v":0.05},{"x":-0.2,"y":-1.4,"v":0.11},{"x":-0.1,"y":-1.4,"v":0.05},
{"x":-1.8,"y":-1.5,"v":0.05},{"x":-0.1,"y":-1.5,"v":0.05},{"x":0.3,"y":-1.5,"v":0.05}
],
"diff":[
{"x":1.1,"y":2.2,"v":0.04},{"x":0.3,"y":2.1,"v":0.08},
{"x":0.4,"y":1.9,"v":-0.04},{"x":0.9,"y":1.9,"v":0.08},
{"x":-0.8,"y":1.8,"v":0.04},{"x":0.4,"y":1.8,"v":-0.04},{"x":0.7,"y":1.8,"v":0.08},{"x":0.8,"y":1.8,"v":0.08},{"x":0.9,"y":1.8,"v":0.13},{"x":1,"y":1.8,"v":0.08},{"x":1.5,"y":1.8,"v":0.08},
{"x":-0.8,"y":1.7,"v":-0.04},{"x":-0.4,"y":1.7,"v":-0.04},{"x":0,"y":1.7,"v":-0.04},{"x":0.4,"y":1.7,"v":-0.04},{"x":0.5,"y":1.7,"v":0.2},{"x":0.6,"y":1.7,"v":0.2},{"x":0.7,"y":1.7,"v":0.2},{"x":0.8,"y":1.7,"v":0.08},{"x":0.9,"y":1.7,"v":0.04},{"x":1,"y":1.7,"v":0.2},{"x":1.1,"y":1.7,"v":0.08},{"x":1.2,"y":1.7,"v":0.08},{"x":1.3,"y":1.7,"v":0.04},{"x":1.4,"y":1.7,"v":0.04},
{"x":-0.4,"y":1.6,"v":-0.04},{"x":-0.3,"y":1.6,"v":0.04},{"x":0.1,"y":1.6,"v":0.04},{"x":0.4,"y":1.6,"v":-0.08},{"x":0.5,"y":1.6,"v":0.08},{"x":0.6,"y":1.6,"v":-0.04},{"x":0.7,"y":1.6,"v":-0.08},{"x":0.8,"y":1.6,"v":-0.04},{"x":0.9,"y":1.6,"v":0.08},{"x":1,"y":1.6,"v":0.08},{"x":1.1,"y":1.6,"v":-0.04},{"x":1.2,"y":1.6,"v":0.04},{"x":1.3,"y":1.6,"v":0.08},{"x":1.4,"y":1.6,"v":-0.04},
{"x":-1.6,"y":1.5,"v":0.04},{"x":-0.4,"y":1.5,"v":0.04},{"x":-0.3,"y":1.5,"v":0.04},{"x":-0.2,"y":1.5,"v":-0.04},{"x":0.1,"y":1.5,"v":0.08},{"x":0.2,"y":1.5,"v":0.04},{"x":0.3,"y":1.5,"v":0.04},{"x":0.4,"y":1.5,"v":0.08},{"x":0.5,"y":1.5,"v":0.04},{"x":0.6,"y":1.5,"v":0.08},{"x":0.7,"y":1.5,"v":-0.08},{"x":0.8,"y":1.5,"v":0.08},{"x":0.9,"y":1.5,"v":0.04},{"x":1,"y":1.5,"v":0.08},{"x":1.1,"y":1.5,"v":0.04},{"x":1.2,"y":1.5,"v":0.08},{"x":1.3,"y":1.5,"v":0.2},{"x":1.4,"y":1.5,"v":0.13},{"x":1.5,"y":1.5,"v":0.08},
{"x":-0.8,"y":1.4,"v":0.08},{"x":-0.7,"y":1.4,"v":0.08},{"x":-0.5,"y":1.4,"v":0.08},{"x":-0.4,"y":1.4,"v":0.08},{"x":-0.2,"y":1.4,"v":0.2},{"x":-0.1,"y":1.4,"v":0.04},{"x":0,"y":1.4,"v":0.04},{"x":0.1,"y":1.4,"v":0.2},{"x":0.2,"y":1.4,"v":0.08},{"x":0.3,"y":1.4,"v":0.04},{"x":0.4,"y":1.4,"v":0.04},{"x":0.5,"y":1.4,"v":0.2},{"x":0.6,"y":1.4,"v":0.2},{"x":0.7,"y":1.4,"v":0.08},{"x":0.8,"y":1.4,"v":0.08},{"x":0.9,"y":1.4,"v":-0.08},{"x":1,"y":1.4,"v":0.04},{"x":1.1,"y":1.4,"v":0.08},{"x":1.2,"y":1.4,"v":0.08},{"x":1.3,"y":1.4,"v":0.04},{"x":1.4,"y":1.4,"v":0.2},{"x":1.5,"y":1.4,"v":-0.04},
{"x":-1.5,"y":1.3,"v":0.04},{"x":-0.4,"y":1.3,"v":0.13},{"x":-0.3,"y":1.3,"v":0.04},{"x":-0.2,"y":1.3,"v":0.08},{"x":-0.1,"y":1.3,"v":0.04},{"x":0,"y":1.3,"v":0.08},{"x":0.1,"y":1.3,"v":0.2},{"x":0.2,"y":1.3,"v":0.08},{"x":0.3,"y":1.3,"v":0.08},{"x":0.4,"y":1.3,"v":0.08},{"x":0.5,"y":1.3,"v":0.2},{"x":0.6,"y":1.3,"v":0.2},{"x":0.7,"y":1.3,"v":0.2},{"x":0.8,"y":1.3,"v":-0.04},{"x":0.9,"y":1.3,"v":-0.12},{"x":1,"y":1.3,"v":0.04},{"x":1.1,"y":1.3,"v":0.08},{"x":1.2,"y":1.3,"v":0.2},{"x":1.3,"y":1.3,"v":0.04},
{"x":-0.6,"y":1.2,"v":0.08},{"x":-0.5,"y":1.2,"v":0.08},{"x":-0.4,"y":1.2,"v":0.08},{"x":-0.3,"y":1.2,"v":0.2},{"x":-0.2,"y":1.2,"v":0.2},{"x":-0.1,"y":1.2,"v":0.2},{"x":0,"y":1.2,"v":0.13},{"x":0.1,"y":1.2,"v":0.2},{"x":0.2,"y":1.2,"v":0.13},{"x":0.3,"y":1.2,"v":0.08},{"x":0.4,"y":1.2,"v":0.08},{"x":0.5,"y":1.2,"v":0.08},{"x":0.6,"y":1.2,"v":0.08},{"x":0.7,"y":1.2,"v":0.2},{"x":0.8,"y":1.2,"v":-0.08},{"x":0.9,"y":1.2,"v":-0.29},{"x":1,"y":1.2,"v":0.08},{"x":1.1,"y":1.2,"v":0.2},{"x":1.2,"y":1.2,"v":0.08},
{"x":-1.4,"y":1.1,"v":0.08},{"x":-0.6,"y":1.1,"v":0.08},{"x":-0.5,"y":1.1,"v":0.08},{"x":-0.4,"y":1.1,"v":0.04},{"x":-0.3,"y":1.1,"v":0.2},{"x":-0.2,"y":1.1,"v":0.08},{"x":-0.1,"y":1.1,"v":0.04},{"x":0,"y":1.1,"v":-0.04},{"x":0.1,"y":1.1,"v":0.2},{"x":0.2,"y":1.1,"v":0.13},{"x":0.3,"y":1.1,"v":0.2},{"x":0.4,"y":1.1,"v":0.13},{"x":0.5,"y":1.1,"v":0.13},{"x":0.6,"y":1.1,"v":0.2},{"x":0.7,"y":1.1,"v":0.08},{"x":0.8,"y":1.1,"v":-0.2},{"x":0.9,"y":1.1,"v":-0.04},{"x":1,"y":1.1,"v":-0.08},{"x":1.1,"y":1.1,"v":0.04},{"x":1.2,"y":1.1,"v":-0.29},{"x":1.3,"y":1.1,"v":0.04},{"x":1.4,"y":1.1,"v":0.08},
{"x":-1.4,"y":1,"v":0.04},{"x":-1.3,"y":1,"v":-0.04},{"x":-1,"y":1,"v":-0.04},{"x":-0.8,"y":1,"v":0.04},{"x":-0.7,"y":1,"v":0.2},{"x":-0.6,"y":1,"v":0.04},{"x":-0.5,"y":1,"v":0.04},{"x":-0.4,"y":1,"v":0.04},{"x":-0.3,"y":1,"v":0.04},{"x":-0.2,"y":1,"v":0.2},{"x":-0.1,"y":1,"v":0.2},{"x":0,"y":1,"v":0.04},{"x":0.1,"y":1,"v":0.2},{"x":0.2,"y":1,"v":0.2},{"x":0.3,"y":1,"v":0.2},{"x":0.4,"y":1,"v":0.2},{"x":0.5,"y":1,"v":0.2},{"x":0.6,"y":1,"v":-0.08},{"x":0.7,"y":1,"v":-0.08},{"x":0.8,"y":1,"v":-0.04},{"x":0.9,"y":1,"v":0.2},{"x":1,"y":1,"v":0.2},{"x":1.1,"y":1,"v":0.04},{"x":1.2,"y":1,"v":0.04},{"x":1.3,"y":1,"v":0.04},
{"x":-1.3,"y":0.9,"v":-0.04},{"x":-0.9,"y":0.9,"v":0.2},{"x":-0.8,"y":0.9,"v":0.04},{"x":-0.7,"y":0.9,"v":0.13},{"x":-0.6,"y":0.9,"v":0.2},{"x":-0.4,"y":0.9,"v":0.04},{"x":-0.3,"y":0.9,"v":0.2},{"x":-0.2,"y":0.9,"v":0.2},{"x":-0.1,"y":0.9,"v":0.2},{"x":0,"y":0.9,"v":0.2},{"x":0.1,"y":0.9,"v":0.2},{"x":0.2,"y":0.9,"v":0.27},{"x":0.3,"y":0.9,"v":0.27},{"x":0.4,"y":0.9,"v":0.2},{"x":0.5,"y":0.9,"v":-0.04},{"x":0.6,"y":0.9,"v":-0.12},{"x":0.7,"y":0.9,"v":0.2},{"x":0.8,"y":0.9,"v":-0.08},{"x":0.9,"y":0.9,"v":0.13},{"x":1,"y":0.9,"v":0.2},{"x":1.1,"y":0.9,"v":0.08},{"x":1.2,"y":0.9,"v":0.08},{"x":1.3,"y":0.9,"v":0.04},{"x":1.4,"y":0.9,"v":0.04},
{"x":-1.5,"y":0.8,"v":0.04},{"x":-1,"y":0.8,"v":0.04},{"x":-0.9,"y":0.8,"v":0.08},{"x":-0.8,"y":0.8,"v":0.04},{"x":-0.7,"y":0.8,"v":0.04},{"x":-0.6,"y":0.8,"v":0.04},{"x":-0.4,"y":0.8,"v":0.04},{"x":-0.2,"y":0.8,"v":0.08},{"x":-0.1,"y":0.8,"v":0.04},{"x":0,"y":0.8,"v":0.2},{"x":0.1,"y":0.8,"v":0.2},{"x":0.2,"y":0.8,"v":0.27},{"x":0.3,"y":0.8,"v":0.27},{"x":0.4,"y":0.8,"v":0.2},{"x":0.5,"y":0.8,"v":0.2},{"x":0.6,"y":0.8,"v":0.08},{"x":0.7,"y":0.8,"v":-0.04},{"x":0.8,"y":0.8,"v":0.04},{"x":0.9,"y":0.8,"v":0.2},{"x":1,"y":0.8,"v":0.2},{"x":1.1,"y":0.8,"v":0.04},{"x":1.2,"y":0.8,"v":0.08},{"x":1.3,"y":0.8,"v":0.08},
{"x":-1.5,"y":0.7,"v":0.04},{"x":-1.1,"y":0.7,"v":-0.04},{"x":-1,"y":0.7,"v":0.04},{"x":-0.9,"y":0.7,"v":0.08},{"x":-0.8,"y":0.7,"v":0.08},{"x":-0.7,"y":0.7,"v":0.13},{"x":-0.6,"y":0.7,"v":0.04},{"x":-0.4,"y":0.7,"v":0.2},{"x":-0.3,"y":0.7,"v":0.2},{"x":-0.2,"y":0.7,"v":0.04},{"x":-0.1,"y":0.7,"v":-0.16},{"x":0,"y":0.7,"v":0.2},{"x":0.1,"y":0.7,"v":0.2},{"x":0.2,"y":0.7,"v":0.27},{"x":0.3,"y":0.7,"v":0.2},{"x":0.4,"y":0.7,"v":0.2},{"x":0.5,"y":0.7,"v":0.2},{"x":0.6,"y":0.7,"v":0.2},{"x":0.7,"y":0.7,"v":-0.12},{"x":0.8,"y":0.7,"v":-0.24},{"x":0.9,"y":0.7,"v":0.2},{"x":1,"y":0.7,"v":0.2},{"x":1.1,"y":0.7,"v":0.04},{"x":1.2,"y":0.7,"v":0.08},{"x":1.3,"y":0.7,"v":0.08},{"x":1.4,"y":0.7,"v":0.04},
{"x":-1.4,"y":0.6,"v":-0.04},{"x":-1.2,"y":0.6,"v":0.08},{"x":-0.8,"y":0.6,"v":-0.04},{"x":-0.7,"y":0.6,"v":0.08},{"x":-0.5,"y":0.6,"v":0.04},{"x":-0.3,"y":0.6,"v":0.04},{"x":-0.2,"y":0.6,"v":0.08},{"x":-0.1,"y":0.6,"v":0.13},{"x":0,"y":0.6,"v":-0.12},{"x":0.1,"y":0.6,"v":-0.04},{"x":0.2,"y":0.6,"v":0.2},{"x":0.3,"y":0.6,"v":0.2},{"x":0.4,"y":0.6,"v":0.2},{"x":0.5,"y":0.6,"v":0.2},{"x":0.6,"y":0.6,"v":0.2},{"x":0.7,"y":0.6,"v":-0.29},{"x":0.8,"y":0.6,"v":-0.29},{"x":0.9,"y":0.6,"v":0.2},{"x":1,"y":0.6,"v":0.2},{"x":1.1,"y":0.6,"v":0.2},{"x":1.2,"y":0.6,"v":0.2},{"x":1.3,"y":0.6,"v":0.2},{"x":1.4,"y":0.6,"v":0.04},
{"x":-1.5,"y":0.5,"v":-0.04},{"x":-1.4,"y":0.5,"v":0.04},{"x":-1.1,"y":0.5,"v":-0.04},{"x":-1,"y":0.5,"v":-0.04},{"x":-0.8,"y":0.5,"v":0.04},{"x":-0.7,"y":0.5,"v":-0.04},{"x":-0.4,"y":0.5,"v":0.04},{"x":-0.3,"y":0.5,"v":0.04},{"x":-0.2,"y":0.5,"v":-0.08},{"x":-0.1,"y":0.5,"v":-0.29},{"x":0,"y":0.5,"v":-0.08},{"x":0.1,"y":0.5,"v":-0.08},{"x":0.2,"y":0.5,"v":0.2},{"x":0.3,"y":0.5,"v":0.2},{"x":0.4,"y":0.5,"v":0.04},{"x":0.5,"y":0.5,"v":-0.04},{"x":0.6,"y":0.5,"v":-0.08},{"x":0.7,"y":0.5,"v":-0.2},{"x":0.8,"y":0.5,"v":-0.08},{"x":0.9,"y":0.5,"v":0.2},{"x":1,"y":0.5,"v":-0.29},{"x":1.1,"y":0.5,"v":0.2},{"x":1.2,"y":0.5,"v":0.2},{"x":1.3,"y":0.5,"v":0.04},{"x":1.4,"y":0.5,"v":0.08},
{"x":-1.7,"y":0.4,"v":-0.04},{"x":-1.3,"y":0.4,"v":0.08},{"x":-0.8,"y":0.4,"v":0.04},{"x":-0.7,"y":0.4,"v":-0.04},{"x":-0.6,"y":0.4,"v":-0.08},{"x":-0.5,"y":0.4,"v":-0.04},{"x":-0.4,"y":0.4,"v":-0.12},{"x":-0.3,"y":0.4,"v":-0.04},{"x":-0.2,"y":0.4,"v":-0.08},{"x":-0.1,"y":0.4,"v":-0.08},{"x":0,"y":0.4,"v":-0.04},{"x":0.1,"y":0.4,"v":-0.12},{"x":0.2,"y":0.4,"v":-0.08},{"x":0.3,"y":0.4,"v":0.04},{"x":0.4,"y":0.4,"v":-0.04},{"x":0.5,"y":0.4,"v":-0.16},{"x":0.6,"y":0.4,"v":-0.24},{"x":0.7,"y":0.4,"v":-0.12},{"x":0.8,"y":0.4,"v":-0.29},{"x":0.9,"y":0.4,"v":0.08},{"x":1,"y":0.4,"v":-0.04},{"x":1.1,"y":0.4,"v":-0.08},{"x":1.2,"y":0.4,"v":-0.24},{"x":1.3,"y":0.4,"v":0.08},
{"x":-1.5,"y":0.3,"v":0.04},{"x":-1.3,"y":0.3,"v":0.08},{"x":-1.2,"y":0.3,"v":0.04},{"x":-1,"y":0.3,"v":-0.04},{"x":-0.7,"y":0.3,"v":-0.12},{"x":-0.6,"y":0.3,"v":-0.04},{"x":-0.5,"y":0.3,"v":0.04},{"x":-0.4,"y":0.3,"v":-0.08},{"x":-0.3,"y":0.3,"v":-0.12},{"x":-0.2,"y":0.3,"v":-0.04},{"x":-0.1,"y":0.3,"v":-0.29},{"x":0,"y":0.3,"v":-0.04},{"x":0.1,"y":0.3,"v":-0.2},{"x":0.2,"y":0.3,"v":-0.08},{"x":0.3,"y":0.3,"v":-0.04},{"x":0.4,"y":0.3,"v":-0.2},{"x":0.5,"y":0.3,"v":-0.29},{"x":0.6,"y":0.3,"v":-0.12},{"x":0.7,"y":0.3,"v":0.2},{"x":0.8,"y":0.3,"v":-0.04},{"x":0.9,"y":0.3,"v":0.2},{"x":1,"y":0.3,"v":0.2},{"x":1.1,"y":0.3,"v":0.2},{"x":1.2,"y":0.3,"v":-0.04},{"x":1.3,"y":0.3,"v":0.04},{"x":1.4,"y":0.3,"v":0.04},
{"x":-1.7,"y":0.2,"v":-0.04},{"x":-1.4,"y":0.2,"v":-0.04},{"x":-1.2,"y":0.2,"v":-0.04},{"x":-1,"y":0.2,"v":-0.04},{"x":-0.8,"y":0.2,"v":-0.04},{"x":-0.7,"y":0.2,"v":-0.04},{"x":-0.6,"y":0.2,"v":-0.16},{"x":-0.5,"y":0.2,"v":-0.2},{"x":-0.4,"y":0.2,"v":-0.24},{"x":-0.3,"y":0.2,"v":-0.16},{"x":-0.2,"y":0.2,"v":-0.04},{"x":-0.1,"y":0.2,"v":-0.29},{"x":0,"y":0.2,"v":-0.29},{"x":0.1,"y":0.2,"v":-0.24},{"x":0.2,"y":0.2,"v":-0.12},{"x":0.3,"y":0.2,"v":-0.29},{"x":0.4,"y":0.2,"v":-0.04},{"x":0.5,"y":0.2,"v":0.04},{"x":0.6,"y":0.2,"v":0.2},{"x":0.7,"y":0.2,"v":-0.08},{"x":0.8,"y":0.2,"v":-0.04},{"x":0.9,"y":0.2,"v":-0.04},{"x":1,"y":0.2,"v":-0.12},{"x":1.1,"y":0.2,"v":-0.08},
{"x":-1.7,"y":0.1,"v":-0.04},{"x":-1.3,"y":0.1,"v":0.04},{"x":-1.2,"y":0.1,"v":-0.04},{"x":-0.9,"y":0.1,"v":0.04},{"x":-0.7,"y":0.1,"v":-0.08},{"x":-0.6,"y":0.1,"v":-0.04},{"x":-0.5,"y":0.1,"v":-0.12},{"x":-0.4,"y":0.1,"v":-0.2},{"x":-0.3,"y":0.1,"v":-0.08},{"x":-0.2,"y":0.1,"v":-0.29},{"x":-0.1,"y":0.1,"v":-0.04},{"x":0,"y":0.1,"v":-0.29},{"x":0.1,"y":0.1,"v":-0.29},{"x":0.2,"y":0.1,"v":-0.29},{"x":0.3,"y":0.1,"v":-0.24},{"x":0.4,"y":0.1,"v":0.2},{"x":0.5,"y":0.1,"v":-0.29},{"x":0.6,"y":0.1,"v":-0.04},{"x":0.7,"y":0.1,"v":0.08},{"x":0.8,"y":0.1,"v":0.2},{"x":0.9,"y":0.1,"v":0.2},{"x":1,"y":0.1,"v":-0.29},{"x":1.1,"y":0.1,"v":-0.04},{"x":1.2,"y":0.1,"v":0.04},
{"x":-1.9,"y":0,"v":-0.04},{"x":-1.7,"y":0,"v":-0.04},{"x":-1.4,"y":0,"v":-0.04},{"x":-1.1,"y":0,"v":-0.04},{"x":-1,"y":0,"v":-0.04},{"x":-0.8,"y":0,"v":-0.08},{"x":-0.5,"y":0,"v":-0.12},{"x":-0.4,"y":0,"v":-0.24},{"x":-0.3,"y":0,"v":-0.12},{"x":-0.2,"y":0,"v":-0.16},{"x":-0.1,"y":0,"v":-0.16},{"x":0,"y":0,"v":-0.29},{"x":0.1,"y":0,"v":-0.29},{"x":0.2,"y":0,"v":-0.08},{"x":0.3,"y":0,"v":-0.04},{"x":0.4,"y":0,"v":0.08},{"x":0.5,"y":0,"v":-0.08},{"x":0.6,"y":0,"v":0.2},{"x":0.7,"y":0,"v":0.2},{"x":0.8,"y":0,"v":0.2},{"x":0.9,"y":0,"v":0.04},{"x":1,"y":0,"v":-0.04},{"x":1.1,"y":0,"v":0.04},{"x":1.2,"y":0,"v":0.04},{"x":1.5,"y":0,"v":0.04},
{"x":-1.9,"y":-0.1,"v":-0.04},{"x":-1.8,"y":-0.1,"v":-0.04},{"x":-1.1,"y":-0.1,"v":-0.08},{"x":-1,"y":-0.1,"v":-0.04},{"x":-0.8,"y":-0.1,"v":-0.16},{"x":-0.7,"y":-0.1,"v":-0.08},{"x":-0.6,"y":-0.1,"v":-0.12},{"x":-0.5,"y":-0.1,"v":-0.12},{"x":-0.4,"y":-0.1,"v":-0.24},{"x":-0.3,"y":-0.1,"v":-0.24},{"x":-0.2,"y":-0.1,"v":-0.12},{"x":-0.1,"y":-0.1,"v":-0.08},{"x":0,"y":-0.1,"v":0.04},{"x":0.1,"y":-0.1,"v":0.08},{"x":0.2,"y":-0.1,"v":0.2},{"x":0.3,"y":-0.1,"v":0.2},{"x":0.4,"y":-0.1,"v":-0.29},{"x":0.5,"y":-0.1,"v":-0.04},{"x":0.6,"y":-0.1,"v":0.2},{"x":0.7,"y":-0.1,"v":0.13},{"x":0.8,"y":-0.1,"v":0.04},{"x":0.9,"y":-0.1,"v":0.08},{"x":1,"y":-0.1,"v":-0.04},{"x":1.1,"y":-0.1,"v":0.08},
{"x":-1.9,"y":-0.2,"v":-0.04},{"x":-1.8,"y":-0.2,"v":-0.08},{"x":-1.2,"y":-0.2,"v":-0.04},{"x":-1,"y":-0.2,"v":-0.04},{"x":-0.8,"y":-0.2,"v":-0.08},{"x":-0.7,"y":-0.2,"v":-0.16},{"x":-0.6,"y":-0.2,"v":-0.24},{"x":-0.5,"y":-0.2,"v":-0.12},{"x":-0.4,"y":-0.2,"v":-0.12},{"x":-0.3,"y":-0.2,"v":-0.12},{"x":-0.2,"y":-0.2,"v":-0.24},{"x":-0.1,"y":-0.2,"v":-0.12},{"x":0,"y":-0.2,"v":0.2},{"x":0.1,"y":-0.2,"v":-0.08},{"x":0.2,"y":-0.2,"v":0.2},{"x":0.3,"y":-0.2,"v":0.2},{"x":0.4,"y":-0.2,"v":-0.08},{"x":0.5,"y":-0.2,"v":-0.08},{"x":0.6,"y":-0.2,"v":0.04},{"x":0.7,"y":-0.2,"v":-0.04},{"x":0.8,"y":-0.2,"v":0.04},{"x":0.9,"y":-0.2,"v":-0.04},{"x":1,"y":-0.2,"v":-0.04},{"x":1.1,"y":-0.2,"v":0.08},{"x":1.2,"y":-0.2,"v":0.08},
{"x":-1.9,"y":-0.3,"v":-0.04},{"x":-1.8,"y":-0.3,"v":-0.04},{"x":-1.3,"y":-0.3,"v":-0.08},{"x":-1.2,"y":-0.3,"v":-0.08},{"x":-1.1,"y":-0.3,"v":0.04},{"x":-0.7,"y":-0.3,"v":-0.08},{"x":-0.6,"y":-0.3,"v":-0.12},{"x":-0.5,"y":-0.3,"v":-0.12},{"x":-0.4,"y":-0.3,"v":-0.12},{"x":-0.3,"y":-0.3,"v":-0.24},{"x":-0.2,"y":-0.3,"v":-0.24},{"x":-0.1,"y":-0.3,"v":-0.12},{"x":0,"y":-0.3,"v":-0.04},{"x":0.1,"y":-0.3,"v":-0.04},{"x":0.2,"y":-0.3,"v":-0.08},{"x":0.3,"y":-0.3,"v":0.04},{"x":0.4,"y":-0.3,"v":0.04},{"x":0.5,"y":-0.3,"v":-0.12},{"x":0.6,"y":-0.3,"v":0.08},{"x":0.7,"y":-0.3,"v":0.13},{"x":0.8,"y":-0.3,"v":0.04},{"x":0.9,"y":-0.3,"v":0.04},{"x":1,"y":-0.3,"v":0.04},{"x":1.1,"y":-0.3,"v":0.04},{"x":1.2,"y":-0.3,"v":0.04},
{"x":-0.9,"y":-0.4,"v":-0.08},{"x":-0.8,"y":-0.4,"v":-0.08},{"x":-0.7,"y":-0.4,"v":-0.12},{"x":-0.6,"y":-0.4,"v":-0.12},{"x":-0.5,"y":-0.4,"v":-0.12},{"x":-0.4,"y":-0.4,"v":-0.04},{"x":-0.3,"y":-0.4,"v":-0.12},{"x":-0.2,"y":-0.4,"v":-0.04},{"x":-0.1,"y":-0.4,"v":-0.12},{"x":0,"y":-0.4,"v":-0.04},{"x":0.1,"y":-0.4,"v":-0.04},{"x":0.2,"y":-0.4,"v":0.04},{"x":0.3,"y":-0.4,"v":0.2},{"x":0.4,"y":-0.4,"v":0.2},{"x":0.5,"y":-0.4,"v":0.04},{"x":0.6,"y":-0.4,"v":-0.16},{"x":0.7,"y":-0.4,"v":-0.04},{"x":0.8,"y":-0.4,"v":0.04},{"x":0.9,"y":-0.4,"v":-0.04},{"x":1,"y":-0.4,"v":0.04},{"x":1.1,"y":-0.4,"v":-0.04},{"x":1.2,"y":-0.4,"v":0.04},
{"x":-1.7,"y":-0.5,"v":-0.04},{"x":-1.3,"y":-0.5,"v":-0.08},{"x":-0.9,"y":-0.5,"v":0.04},{"x":-0.8,"y":-0.5,"v":0.04},{"x":-0.7,"y":-0.5,"v":-0.08},{"x":-0.6,"y":-0.5,"v":-0.04},{"x":-0.5,"y":-0.5,"v":0.04},{"x":-0.4,"y":-0.5,"v":0.04},{"x":-0.3,"y":-0.5,"v":-0.12},{"x":-0.2,"y":-0.5,"v":-0.08},{"x":-0.1,"y":-0.5,"v":-0.04},{"x":0,"y":-0.5,"v":-0.04},{"x":0.1,"y":-0.5,"v":-0.04},{"x":0.2,"y":-0.5,"v":0.2},{"x":0.3,"y":-0.5,"v":-0.12},{"x":0.4,"y":-0.5,"v":0.2},{"x":0.5,"y":-0.5,"v":0.2},{"x":0.6,"y":-0.5,"v":0.2},{"x":0.7,"y":-0.5,"v":0.2},{"x":0.8,"y":-0.5,"v":-0.04},{"x":0.9,"y":-0.5,"v":-0.04},{"x":1,"y":-0.5,"v":0.04},{"x":1.1,"y":-0.5,"v":-0.04},
{"x":-1.5,"y":-0.6,"v":-0.04},{"x":-1.4,"y":-0.6,"v":-0.04},{"x":-1.1,"y":-0.6,"v":0.04},{"x":-1,"y":-0.6,"v":0.04},{"x":-0.6,"y":-0.6,"v":-0.04},{"x":-0.5,"y":-0.6,"v":0.04},{"x":-0.3,"y":-0.6,"v":-0.12},{"x":-0.2,"y":-0.6,"v":-0.04},{"x":-0.1,"y":-0.6,"v":-0.04},{"x":0,"y":-0.6,"v":-0.04},{"x":0.1,"y":-0.6,"v":0.04},{"x":0.2,"y":-0.6,"v":0.2},{"x":0.3,"y":-0.6,"v":0.2},{"x":0.4,"y":-0.6,"v":0.2},{"x":0.5,"y":-0.6,"v":0.04},{"x":0.6,"y":-0.6,"v":0.2},{"x":0.7,"y":-0.6,"v":0.2},{"x":0.8,"y":-0.6,"v":0.2},{"x":0.9,"y":-0.6,"v":-0.04},{"x":1,"y":-0.6,"v":-0.04},{"x":1.1,"y":-0.6,"v":0.04},
{"x":-1.3,"y":-0.7,"v":-0.04},{"x":-1.2,"y":-0.7,"v":0.04},{"x":-0.6,"y":-0.7,"v":-0.2},{"x":-0.5,"y":-0.7,"v":-0.04},{"x":-0.4,"y":-0.7,"v":0.04},{"x":-0.3,"y":-0.7,"v":0.2},{"x":-0.2,"y":-0.7,"v":0.2},{"x":-0.1,"y":-0.7,"v":0.2},{"x":0,"y":-0.7,"v":-0.04},{"x":0.1,"y":-0.7,"v":-0.04},{"x":0.2,"y":-0.7,"v":0.08},{"x":0.3,"y":-0.7,"v":0.2},{"x":0.4,"y":-0.7,"v":0.04},{"x":0.5,"y":-0.7,"v":0.13},{"x":0.6,"y":-0.7,"v":-0.04},{"x":0.7,"y":-0.7,"v":0.2},{"x":0.8,"y":-0.7,"v":0.2},{"x":0.9,"y":-0.7,"v":0.04},{"x":1,"y":-0.7,"v":-0.04},
{"x":-1.5,"y":-0.8,"v":-0.04},{"x":-1.4,"y":-0.8,"v":0.04},{"x":-0.7,"y":-0.8,"v":-0.12},{"x":-0.5,"y":-0.8,"v":0.04},{"x":-0.2,"y":-0.8,"v":0.08},{"x":-0.1,"y":-0.8,"v":-0.04},{"x":0,"y":-0.8,"v":0.08},{"x":0.1,"y":-0.8,"v":0.08},{"x":0.2,"y":-0.8,"v":0.04},{"x":0.3,"y":-0.8,"v":0.2},{"x":0.4,"y":-0.8,"v":0.08},{"x":0.5,"y":-0.8,"v":0.2},{"x":0.6,"y":-0.8,"v":0.08},{"x":0.7,"y":-0.8,"v":0.04},{"x":0.8,"y":-0.8,"v":0.04},{"x":0.9,"y":-0.8,"v":-0.04},{"x":1,"y":-0.8,"v":0.04},{"x":1.1,"y":-0.8,"v":-0.04},{"x":1.2,"y":-0.8,"v":0.04},
{"x":-1.6,"y":-0.9,"v":-0.04},{"x":-1.5,"y":-0.9,"v":-0.04},{"x":-1.4,"y":-0.9,"v":-0.04},{"x":-0.9,"y":-0.9,"v":-0.12},{"x":-0.4,"y":-0.9,"v":-0.04},{"x":-0.3,"y":-0.9,"v":-0.04},{"x":-0.2,"y":-0.9,"v":0.04},{"x":-0.1,"y":-0.9,"v":-0.2},{"x":0,"y":-0.9,"v":-0.12},{"x":0.1,"y":-0.9,"v":0.04},{"x":0.2,"y":-0.9,"v":0.04},{"x":0.3,"y":-0.9,"v":0.13},{"x":0.4,"y":-0.9,"v":0.08},{"x":0.5,"y":-0.9,"v":0.2},{"x":0.6,"y":-0.9,"v":0.04},{"x":0.7,"y":-0.9,"v":-0.04},{"x":0.8,"y":-0.9,"v":-0.04},{"x":1,"y":-0.9,"v":0.04},
{"x":-1.3,"y":-1,"v":-0.08},{"x":-1.2,"y":-1,"v":-0.04},{"x":-1.1,"y":-1,"v":-0.08},{"x":-0.7,"y":-1,"v":-0.04},{"x":-0.6,"y":-1,"v":-0.04},{"x":-0.5,"y":-1,"v":0.04},{"x":-0.4,"y":-1,"v":0.08},{"x":-0.3,"y":-1,"v":0.08},{"x":-0.2,"y":-1,"v":-0.04},{"x":-0.1,"y":-1,"v":-0.04},{"x":0,"y":-1,"v":0.04},{"x":0.1,"y":-1,"v":0.04},{"x":0.2,"y":-1,"v":0.08},{"x":0.3,"y":-1,"v":0.08},{"x":0.4,"y":-1,"v":-0.04},{"x":0.5,"y":-1,"v":-0.04},{"x":0.6,"y":-1,"v":0.04},{"x":0.7,"y":-1,"v":0.04},{"x":0.8,"y":-1,"v":0.04},{"x":0.9,"y":-1,"v":-0.04},
{"x":-1.5,"y":-1.1,"v":-0.04},{"x":-1.4,"y":-1.1,"v":-0.04},{"x":-1.1,"y":-1.1,"v":-0.04},{"x":-0.7,"y":-1.1,"v":-0.04},{"x":-0.6,"y":-1.1,"v":0.04},{"x":-0.5,"y":-1.1,"v":-0.04},{"x":-0.4,"y":-1.1,"v":-0.04},{"x":-0.3,"y":-1.1,"v":0.08},{"x":-0.2,"y":-1.1,"v":0.08},{"x":-0.1,"y":-1.1,"v":0.04},{"x":0,"y":-1.1,"v":0.13},{"x":0.1,"y":-1.1,"v":0.08},{"x":0.2,"y":-1.1,"v":0.08},{"x":0.3,"y":-1.1,"v":0.04},{"x":0.4,"y":-1.1,"v":-0.04},{"x":0.5,"y":-1.1,"v":-0.08},{"x":0.6,"y":-1.1,"v":-0.04},{"x":0.7,"y":-1.1,"v":-0.04},{"x":0.8,"y":-1.1,"v":-0.04},
{"x":-1.5,"y":-1.2,"v":-0.04},{"x":-1.4,"y":-1.2,"v":-0.04},{"x":-1,"y":-1.2,"v":0.04},{"x":-0.6,"y":-1.2,"v":0.04},{"x":-0.5,"y":-1.2,"v":-0.04},{"x":-0.4,"y":-1.2,"v":-0.04},{"x":-0.3,"y":-1.2,"v":-0.04},{"x":-0.2,"y":-1.2,"v":0.04},{"x":0,"y":-1.2,"v":0.13},{"x":0.1,"y":-1.2,"v":-0.04},{"x":0.2,"y":-1.2,"v":-0.04},{"x":0.3,"y":-1.2,"v":-0.04},{"x":0.4,"y":-1.2,"v":-0.08},{"x":0.5,"y":-1.2,"v":-0.08},{"x":0.6,"y":-1.2,"v":-0.08},{"x":0.7,"y":-1.2,"v":-0.08},{"x":0.8,"y":-1.2,"v":-0.04},
{"x":-1.6,"y":-1.3,"v":-0.04},{"x":-1.2,"y":-1.3,"v":-0.04},{"x":-0.8,"y":-1.3,"v":-0.04},{"x":-0.6,"y":-1.3,"v":0.04},{"x":-0.5,"y":-1.3,"v":-0.04},{"x":-0.2,"y":-1.3,"v":0.08},{"x":-0.1,"y":-1.3,"v":-0.04},{"x":0.1,"y":-1.3,"v":-0.04},{"x":0.2,"y":-1.3,"v":-0.08},{"x":0.3,"y":-1.3,"v":0.04},{"x":0.4,"y":-1.3,"v":0.04},{"x":0.6,"y":-1.3,"v":-0.08},{"x":0.7,"y":-1.3,"v":-0.04},{"x":0.8,"y":-1.3,"v":-0.04},
{"x":-1.6,"y":-1.4,"v":-0.04},{"x":-0.7,"y":-1.4,"v":0.04},{"x":-0.5,"y":-1.4,"v":0.04},{"x":-0.4,"y":-1.4,"v":0.04},{"x":-0.1,"y":-1.4,"v":0.04},{"x":0,"y":-1.4,"v":0.08},{"x":0.1,"y":-1.4,"v":0.08},{"x":0.2,"y":-1.4,"v":0.04},{"x":0.3,"y":-1.4,"v":-0.04},{"x":0.4,"y":-1.4,"v":0.08},{"x":0.5,"y":-1.4,"v":-0.04},{"x":0.6,"y":-1.4,"v":0.08},{"x":0.8,"y":-1.4,"v":0.04},{"x":0.9,"y":-1.4,"v":-0.04},
{"x":-0.7,"y":-1.5,"v":0.08},{"x":-0.5,"y":-1.5,"v":-0.04},{"x":-0.4,"y":-1.5,"v":-0.04},{"x":-0.1,"y":-1.5,"v":0.04},{"x":0,"y":-1.5,"v":0.08},{"x":0.1,"y":-1.5,"v":0.08},{"x":0.5,"y":-1.5,"v":0.04},{"x":0.8,"y":-1.5,"v":-0.04},{"x":0.9,"y":-1.5,"v":-0.04}
]},
"concat":[
{"width":236,"height":236,"data":{"values":[{}]},"view":{"fill":"#0a3ff0","stroke":"#f0a020","strokeWidth":2},"resolve":{"axis":{"x":"independent","y":"independent"}},"layer":[
{"data":{"name":"ach"},"mark":{"type":"rect","width":6,"height":6,"yOffset":-3},"encoding":{
"x":{"field":"x","type":"quantitative","scale":{"domain":[-2.05,1.95],"nice":false},"axis":{"disable":false,"values":[-2,-1.8,-1.6,-1.4,-1.2,-1,-0.8,-0.6,-0.4,-0.2,0,0.2,0.4,0.6,0.8,1,1.2,1.4,1.6,1.8],"labelExpr":"datum.value==-1?'10⁻¹':datum.value==0?'10⁰':datum.value==1?'10¹':''"}},
"y":{"field":"y","type":"quantitative","scale":{"domain":[-1.5,2.5],"nice":false},"axis":{"disable":false,"values":[-1.4,-1.2,-1,-0.8,-0.6,-0.4,-0.2,0,0.2,0.4,0.6,0.8,1,1.2,1.4,1.6,1.8,2,2.2,2.4],"labelAngle":-90,"labelAlign":"center","labelBaseline":"bottom","labelExpr":"datum.value==-1?'10⁻¹':datum.value==0?'10⁰':datum.value==1?'10¹':datum.value==2?'10²':''"}},
"color":{"field":"v","type":"quantitative","legend":null,"scale":{"domain":[0,0.02,0.06,0.1,0.15,0.2,0.25,0.3,0.4,0.5],"range":["#3000c0","#0040ff","#00c8ff","#20e020","#a0f000","#ffff00","#ffa000","#ff1010","#b00000","#500000"]}}}},
{"data":{"name":"ticks"},"mark":{"type":"rect","opacity":0},"encoding":{"x":{"field":"x","type":"quantitative","axis":{"disable":false,"orient":"top","values":[-2,-1.8,-1.6,-1.4,-1.2,-1,-0.8,-0.6,-0.4,-0.2,0,0.2,0.4,0.6,0.8,1,1.2,1.4,1.6,1.8],"labels":false}},"y":{"field":"y","type":"quantitative","axis":{"disable":false,"orient":"right","values":[-1.4,-1.2,-1,-0.8,-0.6,-0.4,-0.2,0,0.2,0.4,0.6,0.8,1,1.2,1.4,1.6,1.8,2,2.2,2.4],"labels":false}}}},
{"data":{"values":[{"x":-1.8,"y":-1.21,"x2":-1.8,"y2":-0.6},{"x":-1.8,"y":-1.21,"x2":-1.13,"y2":-1.21}]},"mark":{"type":"rule","color":"white","strokeWidth":2},"encoding":{"x":{"field":"x","type":"quantitative"},"y":{"field":"y","type":"quantitative"},"x2":{"field":"x2"},"y2":{"field":"y2"}}},
{"mark":{"type":"point","shape":"triangle-up","filled":true,"opacity":1,"color":"white","size":50},"encoding":{"x":{"datum":-1.8},"y":{"datum":-0.6}}},
{"mark":{"type":"point","shape":"triangle-right","filled":true,"opacity":1,"color":"white","size":50},"encoding":{"x":{"datum":-1.13},"y":{"datum":-1.21}}},
{"mark":{"type":"text","align":"left","baseline":"alphabetic","fontSize":23,"fontWeight":"bold","color":"white"},"encoding":{"x":{"datum":-1.85},"y":{"datum":2.06},"text":{"value":"ACh"}}},
{"mark":{"type":"text","angle":270,"fontSize":12.5,"color":"#d09a50"},"encoding":{"x":{"datum":-1.76},"y":{"datum":1.38},"text":{"value":"[ rad/s ]"}}},
{"mark":{"type":"text","fontSize":12.5,"color":"#d09a50"},"encoding":{"x":{"datum":1.42},"y":{"datum":-1.14},"text":{"value":"[ rad/s ]"}}},
{"mark":{"type":"text","font":"Liberation Serif","fontSize":22,"color":"white"},"encoding":{"x":{"datum":-1.78},"y":{"datum":-0.35},"text":{"value":"Δχ"}}},
{"mark":{"type":"text","font":"Liberation Serif","fontSize":22,"color":"white"},"encoding":{"x":{"datum":-0.91},"y":{"datum":-1.25},"text":{"value":"Δθ"}}}
]},
{"width":236,"height":236,"data":{"values":[{}]},"view":{"fill":"#0a3ff0","stroke":"#f0a020","strokeWidth":2},"resolve":{"axis":{"x":"independent","y":"independent"}},"layer":[
{"data":{"name":"btx"},"mark":{"type":"rect","width":6,"height":6,"yOffset":-3},"encoding":{
"x":{"field":"x","type":"quantitative","scale":{"domain":[-2.05,1.95],"nice":false},"axis":{"disable":false,"values":[-2,-1.8,-1.6,-1.4,-1.2,-1,-0.8,-0.6,-0.4,-0.2,0,0.2,0.4,0.6,0.8,1,1.2,1.4,1.6,1.8],"labelExpr":"datum.value==-1?'10⁻¹':datum.value==0?'10⁰':datum.value==1?'10¹':''"}},
"y":{"field":"y","type":"quantitative","scale":{"domain":[-1.5,2.5],"nice":false},"axis":{"disable":false,"values":[-1.4,-1.2,-1,-0.8,-0.6,-0.4,-0.2,0,0.2,0.4,0.6,0.8,1,1.2,1.4,1.6,1.8,2,2.2,2.4],"labels":false}},
"color":{"field":"v","type":"quantitative","legend":null,"scale":{"domain":[0,0.02,0.06,0.1,0.15,0.2,0.25,0.3,0.4,0.5],"range":["#3000c0","#0040ff","#00c8ff","#20e020","#a0f000","#ffff00","#ffa000","#ff1010","#b00000","#500000"]}}}},
{"data":{"name":"ticks"},"mark":{"type":"rect","opacity":0},"encoding":{"x":{"field":"x","type":"quantitative","axis":{"disable":false,"orient":"top","values":[-2,-1.8,-1.6,-1.4,-1.2,-1,-0.8,-0.6,-0.4,-0.2,0,0.2,0.4,0.6,0.8,1,1.2,1.4,1.6,1.8],"labels":false}},"y":{"field":"y","type":"quantitative","axis":{"disable":false,"orient":"right","values":[-1.4,-1.2,-1,-0.8,-0.6,-0.4,-0.2,0,0.2,0.4,0.6,0.8,1,1.2,1.4,1.6,1.8,2,2.2,2.4],"labels":false}}}},
{"mark":{"type":"text","align":"left","baseline":"alphabetic","fontSize":22,"color":"#dde6ff"},"encoding":{"x":{"datum":-1.83},"y":{"datum":2.06},"text":{"value":"α"}}},
{"mark":{"type":"text","align":"left","baseline":"alphabetic","fontSize":23,"fontWeight":"bold","color":"white"},"encoding":{"x":{"datum":-1.6},"y":{"datum":2.06},"text":{"value":"Btx"}}},
{"mark":{"type":"text","angle":270,"fontSize":12.5,"color":"#d09a50"},"encoding":{"x":{"datum":-1.81},"y":{"datum":1.38},"text":{"value":"[ rad/s ]"}}},
{"mark":{"type":"text","fontSize":12.5,"color":"#d09a50"},"encoding":{"x":{"datum":1.39},"y":{"datum":-1.14},"text":{"value":"[ rad/s ]"}}},
{"mark":{"type":"text","align":"right","baseline":"alphabetic","fontSize":16,"color":"#333333"},"encoding":{"x":{"datum":1.9},"y":{"datum":2.55},"text":{"value":"Δtime=100μs"}}}
]},
{"width":19,"height":236,"data":{"values":[{"lo":0,"hi":0.5}]},"mark":{"type":"rect","stroke":"#555555","strokeWidth":1,"fill":{"gradient":"linear","x1":0,"y1":1,"x2":0,"y2":0,"stops":[{"offset":0,"color":"#3000c0"},{"offset":0.04,"color":"#0040ff"},{"offset":0.12,"color":"#00c8ff"},{"offset":0.2,"color":"#20e020"},{"offset":0.4,"color":"#ffff00"},{"offset":0.5,"color":"#ffa000"},{"offset":0.6,"color":"#ff1010"},{"offset":0.8,"color":"#b00000"},{"offset":1,"color":"#500000"}]}},"encoding":{"y":{"field":"lo","type":"quantitative","scale":{"domain":[0,0.5],"range":[229,12],"nice":false},"axis":{"disable":false,"orient":"right","values":[0,0.1,0.2,0.3,0.4],"format":".1f","tickColor":"#444444","tickSize":4,"tickWidth":1,"labelFontSize":13,"labelPadding":1}},"y2":{"field":"hi"}}},
{"width":236,"height":236,"data":{"values":[{}]},"view":{"fill":"#ffff00","stroke":"#f8b060","strokeWidth":2},"resolve":{"axis":{"x":"independent","y":"independent"}},"layer":[
{"data":{"name":"diff"},"mark":{"type":"rect","width":6,"height":6,"yOffset":-3},"encoding":{
"x":{"field":"x","type":"quantitative","scale":{"domain":[-2.05,1.95],"nice":false},"axis":{"disable":false,"values":[-2,-1.8,-1.6,-1.4,-1.2,-1,-0.8,-0.6,-0.4,-0.2,0,0.2,0.4,0.6,0.8,1,1.2,1.4,1.6,1.8],"tickColor":"#f8b060","labelExpr":"datum.value==-1?'10⁻¹':datum.value==0?'10⁰':datum.value==1?'10¹':''"}},
"y":{"field":"y","type":"quantitative","scale":{"domain":[-1.5,2.5],"nice":false},"axis":{"disable":false,"values":[-1.4,-1.2,-1,-0.8,-0.6,-0.4,-0.2,0,0.2,0.4,0.6,0.8,1,1.2,1.4,1.6,1.8,2,2.2,2.4],"tickColor":"#f8b060","labelAngle":-90,"labelAlign":"center","labelBaseline":"bottom","labelExpr":"datum.value==-1?'10⁻¹':datum.value==0?'10⁰':datum.value==1?'10¹':datum.value==2?'10²':''"}},
"color":{"field":"v","type":"quantitative","legend":null,"scale":{"domain":[-0.3,-0.2,-0.1,0,0.1,0.2,0.3],"range":["#0000ff","#00e0ff","#20e020","#ffff00","#ff9000","#ff0000","#c00000"]}}}},
{"data":{"values":[{"x":-1.74,"y":-1.01,"x2":-1.74,"y2":-0.35},{"x":-1.74,"y":-1.01,"x2":-1.05,"y2":-1.01}]},"mark":{"type":"rule","color":"black","strokeWidth":2},"encoding":{"x":{"field":"x","type":"quantitative"},"y":{"field":"y","type":"quantitative"},"x2":{"field":"x2"},"y2":{"field":"y2"}}},
{"mark":{"type":"point","shape":"triangle-up","filled":true,"opacity":1,"color":"black","size":50},"encoding":{"x":{"datum":-1.74},"y":{"datum":-0.35}}},
{"mark":{"type":"point","shape":"triangle-right","filled":true,"opacity":1,"color":"black","size":50},"encoding":{"x":{"datum":-1.05},"y":{"datum":-1.01}}},
{"mark":{"type":"text","align":"left","baseline":"alphabetic","fontSize":19,"color":"#d82020"},"encoding":{"x":{"datum":-1.88},"y":{"datum":2.08},"text":{"value":"ACh"}}},
{"mark":{"type":"text","align":"left","baseline":"alphabetic","fontSize":19,"color":"#208c90"},"encoding":{"x":{"datum":-1.22},"y":{"datum":2.08},"text":{"value":"-"}}},
{"mark":{"type":"text","align":"left","baseline":"alphabetic","fontSize":19,"color":"#1090d0"},"encoding":{"x":{"datum":-1.12},"y":{"datum":2.08},"text":{"value":"αBtx"}}},
{"mark":{"type":"text","angle":270,"fontSize":12,"color":"#222222"},"encoding":{"x":{"datum":-1.78},"y":{"datum":0.72},"text":{"value":"[ rad/s ]"}}},
{"mark":{"type":"text","fontSize":12,"color":"#222222"},"encoding":{"x":{"datum":-0.13},"y":{"datum":-1.08},"text":{"value":"[ rad/s ]"}}},
{"mark":{"type":"text","font":"Liberation Serif","fontSize":23,"color":"black"},"encoding":{"x":{"datum":-1.74},"y":{"datum":-0.13},"text":{"value":"Δχ"}}},
{"mark":{"type":"text","font":"Liberation Serif","fontSize":23,"color":"black"},"encoding":{"x":{"datum":-0.86},"y":{"datum":-1.01},"text":{"value":"Δθ"}}}
]},
{"width":236,"height":236,"data":{"values":[{}]},"view":{"fill":"#fff08c","stroke":"#f0b050","strokeWidth":2},"resolve":{"axis":{"x":"independent","y":"independent"}},"layer":[
{"data":{"name":"diff"},"mark":{"type":"rect","width":6,"height":6,"yOffset":-3},"encoding":{
"x":{"field":"x","type":"quantitative","scale":{"domain":[-2.05,1.95],"nice":false},"axis":{"disable":false,"values":[-2,-1.8,-1.6,-1.4,-1.2,-1,-0.8,-0.6,-0.4,-0.2,0,0.2,0.4,0.6,0.8,1,1.2,1.4,1.6,1.8],"tickColor":"#f0b050","labelExpr":"datum.value==-1?'10⁻¹':datum.value==0?'10⁰':datum.value==1?'10¹':''"}},
"y":{"field":"y","type":"quantitative","scale":{"domain":[-1.5,2.5],"nice":false},"axis":{"disable":false,"values":[-1.4,-1.2,-1,-0.8,-0.6,-0.4,-0.2,0,0.2,0.4,0.6,0.8,1,1.2,1.4,1.6,1.8,2,2.2,2.4],"tickColor":"#f0b050","labels":false}},
"color":{"field":"v","type":"quantitative","legend":null,"scale":{"domain":[-0.3,-0.2,-0.1,0,0.1,0.2,0.3],"range":["#8a80e0","#80d4f0","#a0e0a0","#fff08c","#fcc48c","#fa9c9c","#e08080"]}}}},
{"data":{"values":[{"x":-1.74,"y":-1.16,"x2":-1.74,"y2":-0.5},{"x":-1.74,"y":-1.16,"x2":-1.12,"y2":-1.16}]},"mark":{"type":"rule","color":"black","strokeWidth":2},"encoding":{"x":{"field":"x","type":"quantitative"},"y":{"field":"y","type":"quantitative"},"x2":{"field":"x2"},"y2":{"field":"y2"}}},
{"mark":{"type":"point","shape":"triangle-up","filled":true,"opacity":1,"color":"black","size":50},"encoding":{"x":{"datum":-1.74},"y":{"datum":-0.5}}},
{"mark":{"type":"point","shape":"triangle-right","filled":true,"opacity":1,"color":"black","size":50},"encoding":{"x":{"datum":-1.12},"y":{"datum":-1.16}}},
{"mark":{"type":"point","shape":"M-1,0A1,0.64,0,1,1,1,0A1,0.64,0,1,1,-1,0Z","size":8836,"angle":352,"filled":false,"opacity":1,"stroke":"#d03030","strokeWidth":2.5},"encoding":{"x":{"datum":0.27},"y":{"datum":1.23}}},
{"mark":{"type":"point","shape":"M-1,0A1,0.58,0,1,1,1,0A1,0.58,0,1,1,-1,0Z","size":8100,"angle":335,"filled":false,"opacity":1,"stroke":"#1f4f9f","strokeWidth":2.5},"encoding":{"x":{"datum":-0.03},"y":{"datum":0.18}}},
{"mark":{"type":"point","shape":"M-1,0A1,0.8,0,1,1,1,0A1,0.8,0,1,1,-1,0Z","size":1764,"filled":false,"opacity":1,"stroke":"#d03030","strokeWidth":2.5},"encoding":{"x":{"datum":0.32},"y":{"datum":-0.57}}},
{"mark":{"type":"text","align":"left","baseline":"alphabetic","fontSize":19,"color":"#d82020"},"encoding":{"x":{"datum":-1.95},"y":{"datum":2.08},"text":{"value":"ACh"}}},
{"mark":{"type":"text","align":"left","baseline":"alphabetic","fontSize":19,"color":"#208c90"},"encoding":{"x":{"datum":-1.3},"y":{"datum":2.08},"text":{"value":"-"}}},
{"mark":{"type":"text","align":"left","baseline":"alphabetic","fontSize":19,"color":"#1090d0"},"encoding":{"x":{"datum":-1.2},"y":{"datum":2.08},"text":{"value":"αBtx"}}},
{"mark":{"type":"text","angle":270,"fontSize":12,"color":"#222222"},"encoding":{"x":{"datum":-1.76},"y":{"datum":0.74},"text":{"value":"[ mrad/ms ]"}}},
{"mark":{"type":"text","fontSize":12.5,"color":"#222222"},"encoding":{"x":{"datum":0.05},"y":{"datum":-1.19},"text":{"value":"[ mrad/ms ]"}}},
{"mark":{"type":"text","font":"Liberation Serif","fontSize":23,"color":"black"},"encoding":{"x":{"datum":-1.73},"y":{"datum":-0.31},"text":{"value":"Δχ"}}},
{"mark":{"type":"text","font":"Liberation Serif","fontSize":23,"color":"black"},"encoding":{"x":{"datum":-0.86},"y":{"datum":-1.18},"text":{"value":"Δθ"}}}
]},
{"width":19,"height":236,"data":{"values":[{"lo":-0.3,"hi":0.3}]},"mark":{"type":"rect","stroke":"#555555","strokeWidth":1,"fill":{"gradient":"linear","x1":0,"y1":1,"x2":0,"y2":0,"stops":[{"offset":0,"color":"#0000ff"},{"offset":0.167,"color":"#00e0ff"},{"offset":0.333,"color":"#20e020"},{"offset":0.5,"color":"#ffff00"},{"offset":0.667,"color":"#ff9000"},{"offset":0.833,"color":"#ff0000"},{"offset":1,"color":"#c00000"}]}},"encoding":{"y":{"field":"lo","type":"quantitative","scale":{"domain":[-0.3,0.3],"range":[226,9],"nice":false},"axis":{"disable":false,"orient":"right","values":[-0.2,-0.1,0,0.1,0.2],"format":".1f","tickColor":"#444444","tickSize":4,"tickWidth":1,"labelFontSize":13,"labelPadding":1}},"y2":{"field":"hi"}}}
]}
